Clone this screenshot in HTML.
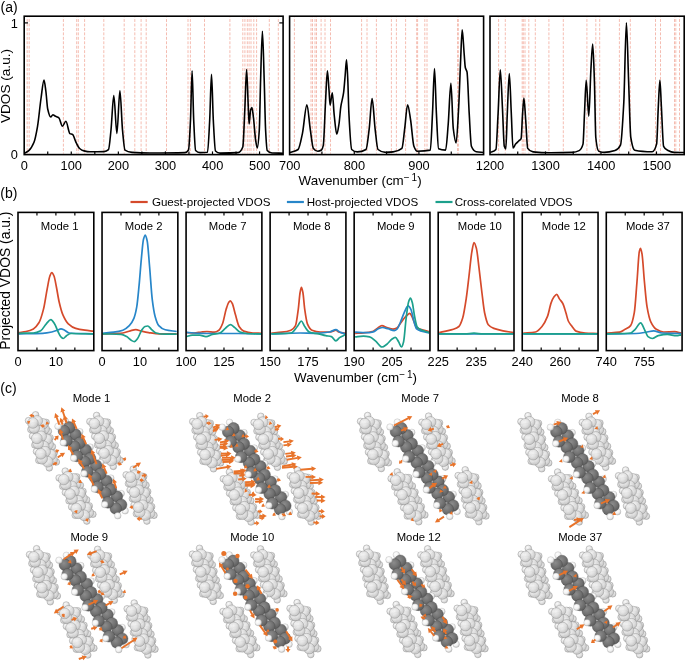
<!DOCTYPE html>
<html><head><meta charset="utf-8"><style>
html,body{margin:0;padding:0;background:#fff;}
svg{display:block;will-change:transform;}
text{font-family:"Liberation Sans", sans-serif;fill:#000;}
</style></head><body>
<svg width="685" height="663" viewBox="0 0 685 663">
<text x="0.50" y="12.30" font-size="14.00" text-anchor="start" >(a)</text>
<g stroke="#ee8f7c" stroke-width="0.8" stroke-dasharray="2.9 1.55" stroke-dashoffset="2.6" opacity="0.75">
<line x1="27.20" y1="17.20" x2="27.20" y2="153.60"/>
<line x1="29.20" y1="17.20" x2="29.20" y2="153.60"/>
<line x1="63.40" y1="17.20" x2="63.40" y2="153.60"/>
<line x1="76.70" y1="17.20" x2="76.70" y2="153.60"/>
<line x1="78.30" y1="17.20" x2="78.30" y2="153.60"/>
<line x1="84.60" y1="17.20" x2="84.60" y2="153.60"/>
<line x1="103.80" y1="17.20" x2="103.80" y2="153.60"/>
<line x1="124.20" y1="17.20" x2="124.20" y2="153.60"/>
<line x1="134.80" y1="17.20" x2="134.80" y2="153.60"/>
<line x1="141.10" y1="17.20" x2="141.10" y2="153.60"/>
<line x1="146.20" y1="17.20" x2="146.20" y2="153.60"/>
<line x1="166.50" y1="17.20" x2="166.50" y2="153.60"/>
<line x1="188.00" y1="17.20" x2="188.00" y2="153.60"/>
<line x1="190.40" y1="17.20" x2="190.40" y2="153.60"/>
<line x1="204.50" y1="17.20" x2="204.50" y2="153.60"/>
<line x1="229.90" y1="17.20" x2="229.90" y2="153.60"/>
<line x1="242.80" y1="17.20" x2="242.80" y2="153.60"/>
<line x1="244.90" y1="17.20" x2="244.90" y2="153.60"/>
<line x1="247.30" y1="17.20" x2="247.30" y2="153.60"/>
<line x1="249.10" y1="17.20" x2="249.10" y2="153.60"/>
<line x1="251.00" y1="17.20" x2="251.00" y2="153.60"/>
<line x1="253.80" y1="17.20" x2="253.80" y2="153.60"/>
<line x1="256.60" y1="17.20" x2="256.60" y2="153.60"/>
<line x1="269.30" y1="17.20" x2="269.30" y2="153.60"/>
<line x1="278.30" y1="17.20" x2="278.30" y2="153.60"/>
<line x1="294.40" y1="17.20" x2="294.40" y2="153.60"/>
<line x1="311.00" y1="17.20" x2="311.00" y2="153.60"/>
<line x1="312.50" y1="17.20" x2="312.50" y2="153.60"/>
<line x1="315.00" y1="17.20" x2="315.00" y2="153.60"/>
<line x1="316.50" y1="17.20" x2="316.50" y2="153.60"/>
<line x1="321.10" y1="17.20" x2="321.10" y2="153.60"/>
<line x1="325.00" y1="17.20" x2="325.00" y2="153.60"/>
<line x1="330.50" y1="17.20" x2="330.50" y2="153.60"/>
<line x1="361.60" y1="17.20" x2="361.60" y2="153.60"/>
<line x1="367.00" y1="17.20" x2="367.00" y2="153.60"/>
<line x1="376.40" y1="17.20" x2="376.40" y2="153.60"/>
<line x1="391.40" y1="17.20" x2="391.40" y2="153.60"/>
<line x1="396.40" y1="17.20" x2="396.40" y2="153.60"/>
<line x1="405.60" y1="17.20" x2="405.60" y2="153.60"/>
<line x1="416.70" y1="17.20" x2="416.70" y2="153.60"/>
<line x1="417.60" y1="17.20" x2="417.60" y2="153.60"/>
<line x1="424.80" y1="17.20" x2="424.80" y2="153.60"/>
<line x1="427.00" y1="17.20" x2="427.00" y2="153.60"/>
<line x1="457.60" y1="17.20" x2="457.60" y2="153.60"/>
<line x1="458.30" y1="17.20" x2="458.30" y2="153.60"/>
<line x1="498.60" y1="17.20" x2="498.60" y2="153.60"/>
<line x1="505.30" y1="17.20" x2="505.30" y2="153.60"/>
<line x1="522.20" y1="17.20" x2="522.20" y2="153.60"/>
<line x1="523.30" y1="17.20" x2="523.30" y2="153.60"/>
<line x1="525.00" y1="17.20" x2="525.00" y2="153.60"/>
<line x1="528.80" y1="17.20" x2="528.80" y2="153.60"/>
<line x1="535.30" y1="17.20" x2="535.30" y2="153.60"/>
<line x1="548.90" y1="17.20" x2="548.90" y2="153.60"/>
<line x1="563.30" y1="17.20" x2="563.30" y2="153.60"/>
<line x1="586.90" y1="17.20" x2="586.90" y2="153.60"/>
<line x1="595.80" y1="17.20" x2="595.80" y2="153.60"/>
<line x1="599.70" y1="17.20" x2="599.70" y2="153.60"/>
<line x1="619.40" y1="17.20" x2="619.40" y2="153.60"/>
<line x1="630.30" y1="17.20" x2="630.30" y2="153.60"/>
<line x1="655.50" y1="17.20" x2="655.50" y2="153.60"/>
<line x1="660.50" y1="17.20" x2="660.50" y2="153.60"/>
<line x1="674.50" y1="17.20" x2="674.50" y2="153.60"/>
<line x1="675.80" y1="17.20" x2="675.80" y2="153.60"/>
<line x1="679.50" y1="17.20" x2="679.50" y2="153.60"/>
</g>
<path d="M24.40 153.20 C25.87 152.33 27.33 151.85 28.80 150.60 C30.53 149.12 32.27 146.51 34.00 142.30 C35.17 139.47 36.33 133.31 37.50 126.60 C38.67 119.89 39.83 106.59 41.00 98.50 C42.00 91.57 43.00 80.10 44.00 80.10 C44.63 80.10 45.27 86.79 45.90 91.50 C46.50 95.96 47.10 106.36 47.70 109.00 C48.70 113.39 49.70 117.00 50.70 117.00 C51.43 117.00 52.17 114.70 52.90 114.70 C53.60 114.70 54.30 115.62 55.00 116.00 C56.30 116.70 57.60 116.78 58.90 117.80 C60.07 118.71 61.23 126.20 62.40 126.20 C63.57 126.20 64.73 121.30 65.90 121.30 C67.23 121.30 68.57 132.84 69.90 133.60 C70.80 134.11 71.70 133.99 72.60 134.50 C73.73 135.14 74.87 140.07 76.00 142.30 C77.20 144.66 78.40 147.49 79.60 148.50 C81.07 149.74 82.53 150.54 84.00 150.90 C86.00 151.38 88.00 151.80 90.00 151.80 C94.67 151.80 99.33 151.75 104.00 151.60 C105.50 151.55 107.00 150.98 108.50 149.60 C109.33 148.83 110.17 137.95 111.00 130.00 C111.93 121.09 112.87 95.50 113.80 95.50 C114.83 95.50 115.87 133.40 116.90 133.40 C117.90 133.40 118.90 90.70 119.90 90.70 C120.77 90.70 121.63 120.89 122.50 130.00 C123.33 138.76 124.17 149.61 125.00 150.20 C127.33 151.85 129.67 152.24 132.00 152.40 C138.00 152.81 144.00 153.00 150.00 153.00 C161.67 153.00 173.33 152.96 185.00 152.60 C186.17 152.56 187.33 151.80 188.50 150.00 C189.17 148.97 189.83 133.61 190.50 120.00 C191.03 109.11 191.57 70.90 192.10 70.90 C192.63 70.90 193.17 108.66 193.70 120.00 C194.33 133.47 194.97 149.83 195.60 150.50 C197.07 152.05 198.53 152.60 200.00 152.60 C202.50 152.60 205.00 152.52 207.50 152.20 C208.23 152.10 208.97 133.73 209.70 120.00 C210.30 108.77 210.90 74.40 211.50 74.40 C212.10 74.40 212.70 109.03 213.30 120.00 C214.03 133.41 214.77 150.26 215.50 151.00 C217.00 152.52 218.50 153.10 220.00 153.10 C226.00 153.10 232.00 153.00 238.00 152.60 C239.60 152.49 241.20 151.00 242.80 147.00 C243.47 145.34 244.13 123.56 244.80 110.00 C245.40 97.80 246.00 69.50 246.60 69.50 C247.13 69.50 247.67 93.49 248.20 105.00 C248.50 111.48 248.80 124.00 249.10 124.00 C249.60 124.00 250.10 111.52 250.60 110.00 C251.03 108.69 251.47 107.60 251.90 107.60 C252.43 107.60 252.97 113.77 253.50 118.00 C254.20 123.56 254.90 135.51 255.60 140.00 C256.17 143.63 256.73 148.00 257.30 148.00 C257.97 148.00 258.63 140.17 259.30 130.00 C259.73 123.39 260.17 93.91 260.60 80.00 C261.20 60.74 261.80 31.20 262.40 31.20 C263.00 31.20 263.60 61.40 264.20 80.00 C264.67 94.47 265.13 121.11 265.60 130.00 C266.13 140.16 266.67 149.87 267.20 150.50 C268.80 152.39 270.40 152.94 272.00 153.00 C275.67 153.15 279.33 153.13 283.00 153.20" fill="none" stroke="#000" stroke-width="1.6" stroke-linejoin="round"/>
<path d="M289.80 152.60 C292.57 151.57 295.33 151.55 298.10 149.50 C299.57 148.41 301.03 140.03 302.50 133.10 C303.97 126.17 305.43 104.70 306.90 104.70 C308.00 104.70 309.10 121.47 310.20 128.80 C311.27 135.90 312.33 147.12 313.40 148.40 C314.87 150.17 316.33 151.20 317.80 151.20 C319.03 151.20 320.27 150.78 321.50 150.00 C322.10 149.62 322.70 148.04 323.30 145.40 C324.03 142.17 324.77 115.66 325.50 102.50 C326.13 91.13 326.77 70.80 327.40 70.80 C327.93 70.80 328.47 83.14 329.00 90.00 C329.37 94.71 329.73 105.10 330.10 105.10 C330.83 105.10 331.57 92.70 332.30 92.70 C332.93 92.70 333.57 109.19 334.20 115.00 C335.07 122.95 335.93 134.20 336.80 134.20 C337.53 134.20 338.27 128.62 339.00 124.00 C339.60 120.22 340.20 110.96 340.80 106.90 C341.73 100.59 342.67 99.42 343.60 92.70 C344.13 88.86 344.67 81.07 345.20 75.00 C345.63 70.07 346.07 59.80 346.50 59.80 C346.93 59.80 347.37 71.01 347.80 80.00 C348.17 87.61 348.53 106.35 348.90 113.40 C349.83 131.35 350.77 148.62 351.70 149.50 C353.53 151.22 355.37 151.90 357.20 151.90 C360.13 151.90 363.07 151.29 366.00 149.50 C367.07 148.85 368.13 137.35 369.20 128.80 C370.17 121.06 371.13 98.60 372.10 98.60 C373.10 98.60 374.10 120.46 375.10 128.80 C376.07 136.87 377.03 148.69 378.00 149.50 C380.53 151.62 383.07 152.40 385.60 152.40 C388.10 152.40 390.60 152.18 393.10 151.90 C396.03 151.57 398.97 151.01 401.90 148.40 C402.83 147.57 403.77 135.80 404.70 128.70 C405.67 121.35 406.63 104.70 407.60 104.70 C408.60 104.70 409.60 113.81 410.60 120.00 C411.70 126.81 412.80 143.40 413.90 146.20 C415.00 149.00 416.10 151.20 417.20 151.20 C421.57 151.20 425.93 151.05 430.30 150.10 C431.03 149.94 431.77 127.46 432.50 113.40 C433.17 100.62 433.83 68.60 434.50 68.60 C435.13 68.60 435.77 101.23 436.40 113.40 C437.13 127.49 437.87 148.48 438.60 148.80 C440.93 149.83 443.27 150.10 445.60 150.10 C446.47 150.10 447.33 134.68 448.20 124.30 C449.10 113.52 450.00 83.40 450.90 83.40 C451.70 83.40 452.50 122.21 453.30 128.70 C454.23 136.27 455.17 142.90 456.10 142.90 C456.97 142.90 457.83 122.37 458.70 106.80 C459.30 96.02 459.90 76.07 460.50 63.10 C461.07 50.85 461.63 29.90 462.20 29.90 C462.87 29.90 463.53 46.36 464.20 54.40 C464.57 58.82 464.93 65.87 465.30 67.50 C465.87 70.03 466.43 69.40 467.00 71.90 C467.73 75.13 468.47 101.19 469.20 113.40 C469.93 125.61 470.67 144.45 471.40 146.20 C473.00 150.01 474.60 151.36 476.20 151.70 C478.67 152.22 481.13 152.23 483.60 152.50" fill="none" stroke="#000" stroke-width="1.6" stroke-linejoin="round"/>
<path d="M490.30 152.60 C492.17 151.57 494.03 151.81 495.90 149.50 C496.63 148.59 497.37 126.58 498.10 113.40 C498.83 100.22 499.57 69.70 500.30 69.70 C501.03 69.70 501.77 94.99 502.50 109.10 C503.10 120.64 503.70 144.43 504.30 146.30 C504.80 147.86 505.30 148.90 505.80 148.90 C506.30 148.90 506.80 124.25 507.30 113.40 C507.97 98.93 508.63 73.60 509.30 73.60 C509.97 73.60 510.63 99.98 511.30 113.40 C511.87 124.81 512.43 148.00 513.00 148.00 C513.87 148.00 514.73 145.15 515.60 144.10 C516.70 142.77 517.80 141.90 518.90 140.80 C519.63 140.07 520.37 140.07 521.10 138.60 C521.60 137.60 522.10 120.29 522.60 113.40 C523.03 107.43 523.47 98.10 523.90 98.10 C524.50 98.10 525.10 112.15 525.70 120.00 C526.37 128.72 527.03 147.44 527.70 148.40 C529.50 150.99 531.30 151.70 533.10 151.90 C538.93 152.55 544.77 152.80 550.60 152.80 C557.90 152.80 565.20 152.70 572.50 152.40 C574.70 152.31 576.90 151.70 579.10 150.60 C580.40 149.95 581.70 148.68 583.00 144.10 C583.50 142.34 584.00 123.40 584.50 113.40 C585.07 102.07 585.63 80.20 586.20 80.20 C587.07 80.20 587.93 116.10 588.80 116.10 C589.50 116.10 590.20 81.75 590.90 69.70 C591.50 59.37 592.10 44.10 592.70 44.10 C593.27 44.10 593.83 64.52 594.40 80.60 C594.87 93.84 595.33 133.06 595.80 137.50 C596.73 146.37 597.67 150.63 598.60 151.10 C600.43 152.02 602.27 152.40 604.10 152.40 C607.73 152.40 611.37 151.71 615.00 150.60 C616.83 150.04 618.67 148.80 620.50 145.20 C621.60 143.04 622.70 122.85 623.80 102.50 C624.67 86.47 625.53 22.70 626.40 22.70 C627.13 22.70 627.87 61.47 628.60 80.60 C629.33 99.73 630.07 132.93 630.80 137.50 C632.10 145.60 633.40 149.93 634.70 150.20 C640.53 151.42 646.37 151.70 652.20 151.70 C653.67 151.70 655.13 149.47 656.60 144.10 C657.17 142.02 657.73 117.62 658.30 106.90 C658.83 96.82 659.37 80.20 659.90 80.20 C660.40 80.20 660.90 97.97 661.40 106.90 C662.13 119.99 662.87 144.79 663.60 146.30 C664.90 148.99 666.20 149.52 667.50 150.20 C669.70 151.35 671.90 152.35 674.10 152.40 C677.40 152.47 680.70 152.47 684.00 152.50" fill="none" stroke="#000" stroke-width="1.6" stroke-linejoin="round"/>
<rect x="24.20" y="16.20" width="258.90" height="138.40" fill="none" stroke="#000" stroke-width="1.6"/>
<line x1="47.74" y1="154.60" x2="47.74" y2="151.40" stroke="#000" stroke-width="1.2"/>
<line x1="71.27" y1="154.60" x2="71.27" y2="151.40" stroke="#000" stroke-width="1.2"/>
<line x1="94.81" y1="154.60" x2="94.81" y2="151.40" stroke="#000" stroke-width="1.2"/>
<line x1="118.35" y1="154.60" x2="118.35" y2="151.40" stroke="#000" stroke-width="1.2"/>
<line x1="141.88" y1="154.60" x2="141.88" y2="151.40" stroke="#000" stroke-width="1.2"/>
<line x1="165.42" y1="154.60" x2="165.42" y2="151.40" stroke="#000" stroke-width="1.2"/>
<line x1="188.95" y1="154.60" x2="188.95" y2="151.40" stroke="#000" stroke-width="1.2"/>
<line x1="212.49" y1="154.60" x2="212.49" y2="151.40" stroke="#000" stroke-width="1.2"/>
<line x1="236.03" y1="154.60" x2="236.03" y2="151.40" stroke="#000" stroke-width="1.2"/>
<line x1="259.56" y1="154.60" x2="259.56" y2="151.40" stroke="#000" stroke-width="1.2"/>
<rect x="289.60" y="16.20" width="194.00" height="138.40" fill="none" stroke="#000" stroke-width="1.6"/>
<line x1="321.93" y1="154.60" x2="321.93" y2="151.40" stroke="#000" stroke-width="1.2"/>
<line x1="354.27" y1="154.60" x2="354.27" y2="151.40" stroke="#000" stroke-width="1.2"/>
<line x1="386.60" y1="154.60" x2="386.60" y2="151.40" stroke="#000" stroke-width="1.2"/>
<line x1="418.93" y1="154.60" x2="418.93" y2="151.40" stroke="#000" stroke-width="1.2"/>
<line x1="451.27" y1="154.60" x2="451.27" y2="151.40" stroke="#000" stroke-width="1.2"/>
<rect x="490.00" y="16.20" width="194.20" height="138.40" fill="none" stroke="#000" stroke-width="1.6"/>
<line x1="517.74" y1="154.60" x2="517.74" y2="151.40" stroke="#000" stroke-width="1.2"/>
<line x1="545.49" y1="154.60" x2="545.49" y2="151.40" stroke="#000" stroke-width="1.2"/>
<line x1="573.23" y1="154.60" x2="573.23" y2="151.40" stroke="#000" stroke-width="1.2"/>
<line x1="600.97" y1="154.60" x2="600.97" y2="151.40" stroke="#000" stroke-width="1.2"/>
<line x1="628.71" y1="154.60" x2="628.71" y2="151.40" stroke="#000" stroke-width="1.2"/>
<line x1="656.46" y1="154.60" x2="656.46" y2="151.40" stroke="#000" stroke-width="1.2"/>
<line x1="24.2" y1="22.9" x2="28" y2="22.9" stroke="#000" stroke-width="1.2"/>
<line x1="283.1" y1="22.9" x2="279.3" y2="22.9" stroke="#000" stroke-width="1.2"/>
<text x="17.80" y="27.60" font-size="12.80" text-anchor="end" >1</text>
<text x="17.80" y="159.30" font-size="12.80" text-anchor="end" >0</text>
<text x="24.20" y="169.80" font-size="12.80" text-anchor="middle" >0</text>
<text x="71.30" y="169.80" font-size="12.80" text-anchor="middle" >100</text>
<text x="118.40" y="169.80" font-size="12.80" text-anchor="middle" >200</text>
<text x="165.50" y="169.80" font-size="12.80" text-anchor="middle" >300</text>
<text x="212.60" y="169.80" font-size="12.80" text-anchor="middle" >400</text>
<text x="259.70" y="169.80" font-size="12.80" text-anchor="middle" >500</text>
<text x="289.80" y="169.80" font-size="12.80" text-anchor="middle" >700</text>
<text x="354.40" y="169.80" font-size="12.80" text-anchor="middle" >800</text>
<text x="419.00" y="169.80" font-size="12.80" text-anchor="middle" >900</text>
<text x="490.00" y="169.80" font-size="12.80" text-anchor="middle" >1200</text>
<text x="545.60" y="169.80" font-size="12.80" text-anchor="middle" >1300</text>
<text x="601.20" y="169.80" font-size="12.80" text-anchor="middle" >1400</text>
<text x="656.80" y="169.80" font-size="12.80" text-anchor="middle" >1500</text>
<text x="298.60" y="185.40" font-size="13.40" text-anchor="start" >Wavenumber (cm<tspan font-size="10" dy="-4.1">− 1</tspan><tspan dy="4.1">)</tspan></text>
<text transform="translate(10.2,86) rotate(-90)" font-size="13.6" text-anchor="middle">VDOS (a.u.)</text>
<text x="0.30" y="198.40" font-size="14.00" text-anchor="start" >(b)</text>
<line x1="130.5" y1="202" x2="147.7" y2="202" stroke="#d54a2b" stroke-width="2.2"/>
<text x="151.90" y="206.20" font-size="11.60" text-anchor="start" >Guest-projected VDOS</text>
<line x1="286.9" y1="202" x2="303.9" y2="202" stroke="#2786c9" stroke-width="2.2"/>
<text x="306.70" y="206.20" font-size="11.60" text-anchor="start" >Host-projected VDOS</text>
<line x1="435.5" y1="202" x2="452.5" y2="202" stroke="#1ca08c" stroke-width="2.2"/>
<text x="454.70" y="206.20" font-size="11.60" text-anchor="start" >Cross-corelated VDOS</text>
<g fill="none" stroke-width="1.7" stroke-linejoin="round">
<path d="M18.80 332.60 C21.20 332.23 23.60 332.01 26.00 331.50 C28.47 330.98 30.93 330.25 33.40 328.90 C35.23 327.90 37.07 325.80 38.90 322.80 C40.43 320.29 41.97 315.08 43.50 309.10 C44.73 304.29 45.97 295.05 47.20 288.80 C48.10 284.24 49.00 278.23 49.90 276.00 C50.53 274.43 51.17 272.70 51.80 272.70 C52.53 272.70 53.27 274.35 54.00 276.00 C54.80 277.80 55.60 283.03 56.40 287.00 C57.30 291.47 58.20 297.83 59.10 301.70 C60.33 307.00 61.57 311.75 62.80 314.60 C64.63 318.84 66.47 322.10 68.30 323.80 C70.77 326.09 73.23 327.65 75.70 328.40 C78.77 329.33 81.83 329.77 84.90 330.20 C87.63 330.58 90.37 330.80 93.10 331.10" stroke="#d54a2b"/>
<path d="M18.80 333.90 C26.73 333.70 34.67 333.68 42.60 333.30 C45.67 333.15 48.73 332.63 51.80 332.00 C53.63 331.63 55.47 330.82 57.30 330.20 C58.53 329.78 59.77 328.90 61.00 328.90 C62.20 328.90 63.40 329.66 64.60 330.20 C66.13 330.89 67.67 332.86 69.20 333.00 C77.17 333.71 85.13 333.60 93.10 333.90" stroke="#2786c9"/>
<path d="M18.80 333.30 C23.67 333.20 28.53 333.21 33.40 333.00 C35.83 332.90 38.27 332.01 40.70 330.80 C42.57 329.87 44.43 325.73 46.30 323.80 C47.83 322.21 49.37 319.70 50.90 319.70 C52.10 319.70 53.30 322.00 54.50 323.80 C55.73 325.65 56.97 329.57 58.20 332.00 C59.13 333.84 60.07 336.10 61.00 337.00 C61.73 337.71 62.47 338.50 63.20 338.50 C64.30 338.50 65.40 336.38 66.50 335.70 C68.03 334.75 69.57 333.50 71.10 333.50 C78.43 333.50 85.77 333.77 93.10 333.90" stroke="#1ca08c"/>
</g>
<rect x="18.00" y="212.40" width="75.80" height="138.20" fill="none" stroke="#000" stroke-width="1.6"/>
<line x1="36.95" y1="212.40" x2="36.95" y2="215.40" stroke="#000" stroke-width="1.2"/>
<line x1="36.95" y1="350.60" x2="36.95" y2="347.60" stroke="#000" stroke-width="1.2"/>
<line x1="55.90" y1="212.40" x2="55.90" y2="215.40" stroke="#000" stroke-width="1.2"/>
<line x1="55.90" y1="350.60" x2="55.90" y2="347.60" stroke="#000" stroke-width="1.2"/>
<line x1="74.85" y1="212.40" x2="74.85" y2="215.40" stroke="#000" stroke-width="1.2"/>
<line x1="74.85" y1="350.60" x2="74.85" y2="347.60" stroke="#000" stroke-width="1.2"/>
<text x="59.60" y="229.60" font-size="11.30" text-anchor="middle" >Mode 1</text>
<text x="18.00" y="366.30" font-size="12.80" text-anchor="middle" >0</text>
<text x="55.90" y="366.30" font-size="12.80" text-anchor="middle" >10</text>
<g fill="none" stroke-width="1.7" stroke-linejoin="round">
<path d="M102.70 333.90 C109.43 333.60 116.17 333.59 122.90 333.00 C125.37 332.78 127.83 331.38 130.30 330.80 C132.13 330.37 133.97 329.70 135.80 329.70 C137.63 329.70 139.47 330.68 141.30 331.10 C143.73 331.66 146.17 332.23 148.60 332.60 C152.30 333.16 156.00 333.90 159.70 333.90 C165.37 333.90 171.03 333.90 176.70 333.90" stroke="#d54a2b"/>
<path d="M102.70 333.30 C106.37 332.93 110.03 332.71 113.70 332.20 C116.77 331.78 119.83 331.26 122.90 330.20 C125.03 329.46 127.17 327.75 129.30 325.60 C130.83 324.05 132.37 321.90 133.90 318.30 C134.83 316.11 135.77 312.42 136.70 307.20 C137.50 302.73 138.30 293.45 139.10 285.20 C139.83 277.64 140.57 266.95 141.30 259.40 C142.03 251.85 142.77 241.82 143.50 239.20 C144.10 237.05 144.70 235.10 145.30 235.10 C145.93 235.10 146.57 238.01 147.20 241.00 C148.00 244.77 148.80 257.65 149.60 266.80 C150.50 277.10 151.40 292.72 152.30 299.90 C153.23 307.34 154.17 313.07 155.10 316.40 C156.33 320.80 157.57 324.25 158.80 325.60 C160.93 327.94 163.07 329.25 165.20 329.80 C169.03 330.78 172.87 330.93 176.70 331.50" stroke="#2786c9"/>
<path d="M102.70 333.90 C108.83 334.07 114.97 334.03 121.10 334.40 C122.93 334.51 124.77 335.61 126.60 336.60 C128.13 337.43 129.67 339.47 131.20 340.30 C132.23 340.86 133.27 341.60 134.30 341.60 C135.40 341.60 136.50 339.89 137.60 338.50 C138.97 336.77 140.33 332.15 141.70 330.20 C142.80 328.63 143.90 326.84 145.00 326.50 C145.90 326.22 146.80 326.00 147.70 326.00 C148.93 326.00 150.17 328.25 151.40 329.30 C152.93 330.60 154.47 332.63 156.00 333.00 C159.07 333.75 162.13 334.20 165.20 334.20 C169.03 334.20 172.87 334.20 176.70 334.20" stroke="#1ca08c"/>
</g>
<rect x="102.04" y="212.40" width="75.80" height="138.20" fill="none" stroke="#000" stroke-width="1.6"/>
<line x1="120.99" y1="212.40" x2="120.99" y2="215.40" stroke="#000" stroke-width="1.2"/>
<line x1="120.99" y1="350.60" x2="120.99" y2="347.60" stroke="#000" stroke-width="1.2"/>
<line x1="139.94" y1="212.40" x2="139.94" y2="215.40" stroke="#000" stroke-width="1.2"/>
<line x1="139.94" y1="350.60" x2="139.94" y2="347.60" stroke="#000" stroke-width="1.2"/>
<line x1="158.89" y1="212.40" x2="158.89" y2="215.40" stroke="#000" stroke-width="1.2"/>
<line x1="158.89" y1="350.60" x2="158.89" y2="347.60" stroke="#000" stroke-width="1.2"/>
<text x="143.64" y="229.60" font-size="11.30" text-anchor="middle" >Mode 2</text>
<text x="102.04" y="366.30" font-size="12.80" text-anchor="middle" >0</text>
<text x="139.94" y="366.30" font-size="12.80" text-anchor="middle" >10</text>
<g fill="none" stroke-width="1.7" stroke-linejoin="round">
<path d="M186.60 332.60 C189.07 332.73 191.53 333.00 194.00 333.00 C196.47 333.00 198.93 332.27 201.40 332.00 C203.23 331.80 205.07 331.50 206.90 331.50 C209.37 331.50 211.83 332.20 214.30 332.20 C215.83 332.20 217.37 331.30 218.90 330.20 C220.10 329.34 221.30 326.74 222.50 323.80 C223.73 320.78 224.97 313.02 226.20 309.10 C227.00 306.56 227.80 303.79 228.60 302.60 C229.17 301.76 229.73 300.80 230.30 300.80 C230.97 300.80 231.63 302.23 232.30 303.50 C233.33 305.46 234.37 311.09 235.40 314.60 C236.63 318.79 237.87 324.58 239.10 326.50 C240.63 328.88 242.17 330.53 243.70 331.10 C246.77 332.23 249.83 332.81 252.90 333.00 C255.67 333.17 258.43 333.20 261.20 333.30" stroke="#d54a2b"/>
<path d="M186.60 332.40 C191.53 332.70 196.47 333.21 201.40 333.30 C207.53 333.42 213.67 333.50 219.80 333.50 C225.93 333.50 232.07 333.50 238.20 333.50 C245.87 333.50 253.53 333.77 261.20 333.90" stroke="#2786c9"/>
<path d="M186.60 336.60 C188.47 336.13 190.33 335.20 192.20 335.20 C194.63 335.20 197.07 335.20 199.50 335.20 C201.67 335.20 203.83 336.60 206.00 336.60 C208.13 336.60 210.27 334.92 212.40 334.40 C214.87 333.79 217.33 333.79 219.80 333.00 C221.63 332.42 223.47 329.82 225.30 328.40 C227.00 327.08 228.70 324.70 230.40 324.70 C231.77 324.70 233.13 326.40 234.50 327.40 C236.33 328.74 238.17 331.38 240.00 332.00 C242.43 332.83 244.87 333.37 247.30 333.50 C251.93 333.75 256.57 333.77 261.20 333.90" stroke="#1ca08c"/>
</g>
<rect x="186.08" y="212.40" width="75.80" height="138.20" fill="none" stroke="#000" stroke-width="1.6"/>
<line x1="205.03" y1="212.40" x2="205.03" y2="215.40" stroke="#000" stroke-width="1.2"/>
<line x1="205.03" y1="350.60" x2="205.03" y2="347.60" stroke="#000" stroke-width="1.2"/>
<line x1="223.98" y1="212.40" x2="223.98" y2="215.40" stroke="#000" stroke-width="1.2"/>
<line x1="223.98" y1="350.60" x2="223.98" y2="347.60" stroke="#000" stroke-width="1.2"/>
<line x1="242.93" y1="212.40" x2="242.93" y2="215.40" stroke="#000" stroke-width="1.2"/>
<line x1="242.93" y1="350.60" x2="242.93" y2="347.60" stroke="#000" stroke-width="1.2"/>
<text x="227.68" y="229.60" font-size="11.30" text-anchor="middle" >Mode 7</text>
<text x="186.08" y="366.30" font-size="12.80" text-anchor="middle" >100</text>
<text x="223.98" y="366.30" font-size="12.80" text-anchor="middle" >125</text>
<g fill="none" stroke-width="1.7" stroke-linejoin="round">
<path d="M271.30 333.00 C274.77 332.73 278.23 332.60 281.70 332.20 C284.77 331.85 287.83 331.38 290.90 330.20 C292.43 329.61 293.97 328.38 295.50 325.60 C296.43 323.91 297.37 315.92 298.30 309.10 C298.90 304.72 299.50 295.73 300.10 292.50 C300.53 290.17 300.97 287.40 301.40 287.40 C301.90 287.40 302.40 290.05 302.90 292.50 C303.50 295.44 304.10 304.92 304.70 309.10 C305.60 315.37 306.50 321.70 307.40 323.80 C308.93 327.38 310.47 329.58 312.00 330.20 C314.77 331.32 317.53 332.00 320.30 332.00 C323.37 332.00 326.43 332.00 329.50 332.00 C330.73 332.00 331.97 331.45 333.20 331.10 C334.10 330.84 335.00 330.20 335.90 330.20 C336.83 330.20 337.77 331.69 338.70 332.00 C340.87 332.71 343.03 332.87 345.20 333.30" stroke="#d54a2b"/>
<path d="M271.30 333.90 C280.90 333.60 290.50 333.00 300.10 333.00 C305.00 333.00 309.90 333.30 314.80 333.30 C319.70 333.30 324.60 332.76 329.50 332.00 C331.63 331.67 333.77 329.70 335.90 329.70 C337.13 329.70 338.37 331.45 339.60 332.00 C341.47 332.84 343.33 333.27 345.20 333.90" stroke="#2786c9"/>
<path d="M271.30 333.90 C277.83 333.60 284.37 333.68 290.90 333.00 C293.03 332.78 295.17 328.99 297.30 326.50 C298.67 324.90 300.03 321.00 301.40 321.00 C302.50 321.00 303.60 324.95 304.70 326.50 C306.23 328.65 307.77 331.41 309.30 332.00 C312.37 333.17 315.43 333.21 318.50 333.90 C320.93 334.45 323.37 335.23 325.80 335.70 C327.67 336.06 329.53 336.07 331.40 336.60 C332.90 337.02 334.40 340.90 335.90 340.90 C337.13 340.90 338.37 338.41 339.60 337.60 C341.47 336.38 343.33 335.73 345.20 334.80" stroke="#1ca08c"/>
</g>
<rect x="270.12" y="212.40" width="75.80" height="138.20" fill="none" stroke="#000" stroke-width="1.6"/>
<line x1="289.07" y1="212.40" x2="289.07" y2="215.40" stroke="#000" stroke-width="1.2"/>
<line x1="289.07" y1="350.60" x2="289.07" y2="347.60" stroke="#000" stroke-width="1.2"/>
<line x1="308.02" y1="212.40" x2="308.02" y2="215.40" stroke="#000" stroke-width="1.2"/>
<line x1="308.02" y1="350.60" x2="308.02" y2="347.60" stroke="#000" stroke-width="1.2"/>
<line x1="326.97" y1="212.40" x2="326.97" y2="215.40" stroke="#000" stroke-width="1.2"/>
<line x1="326.97" y1="350.60" x2="326.97" y2="347.60" stroke="#000" stroke-width="1.2"/>
<text x="311.72" y="229.60" font-size="11.30" text-anchor="middle" >Mode 8</text>
<text x="270.12" y="366.30" font-size="12.80" text-anchor="middle" >150</text>
<text x="308.02" y="366.30" font-size="12.80" text-anchor="middle" >175</text>
<g fill="none" stroke-width="1.7" stroke-linejoin="round">
<path d="M355.10 333.30 C357.87 333.13 360.63 333.04 363.40 332.80 C366.70 332.51 370.00 332.15 373.30 331.20 C374.73 330.79 376.17 329.00 377.60 328.10 C379.03 327.20 380.47 325.70 381.90 325.70 C383.57 325.70 385.23 326.99 386.90 327.50 C388.93 328.12 390.97 329.10 393.00 329.10 C394.27 329.10 395.53 328.66 396.80 328.10 C398.03 327.56 399.27 324.85 400.50 323.20 C401.73 321.55 402.97 319.62 404.20 318.20 C405.43 316.78 406.67 315.43 407.90 314.50 C408.53 314.02 409.17 313.30 409.80 313.30 C410.40 313.30 411.00 314.75 411.60 315.80 C412.43 317.26 413.27 320.06 414.10 322.00 C414.93 323.94 415.77 326.78 416.60 327.50 C417.83 328.57 419.07 328.98 420.30 329.40 C421.93 329.95 423.57 330.15 425.20 330.60 C426.50 330.96 427.80 331.40 429.10 331.80" stroke="#d54a2b"/>
<path d="M355.10 332.10 C358.67 332.30 362.23 332.70 365.80 332.70 C368.30 332.70 370.80 332.33 373.30 331.80 C374.93 331.46 376.57 329.46 378.20 328.80 C379.63 328.22 381.07 327.50 382.50 327.50 C384.37 327.50 386.23 328.32 388.10 328.80 C390.17 329.33 392.23 330.60 394.30 330.60 C395.13 330.60 395.97 330.02 396.80 329.40 C398.03 328.48 399.27 324.75 400.50 322.00 C401.73 319.25 402.97 315.24 404.20 312.70 C405.50 310.02 406.80 305.90 408.10 305.90 C409.07 305.90 410.03 307.74 411.00 309.60 C412.03 311.59 413.07 318.68 414.10 322.00 C414.93 324.68 415.77 328.05 416.60 328.80 C418.23 330.27 419.87 330.70 421.50 331.20 C424.03 331.97 426.57 332.27 429.10 332.80" stroke="#2786c9"/>
<path d="M355.10 336.80 C357.87 336.60 360.63 336.20 363.40 336.20 C365.47 336.20 367.53 336.45 369.60 336.80 C371.63 337.15 373.67 339.45 375.70 341.10 C377.77 342.77 379.83 347.00 381.90 347.00 C383.57 347.00 385.23 345.40 386.90 344.20 C388.53 343.03 390.17 340.43 391.80 339.30 C392.97 338.49 394.13 337.40 395.30 337.40 C396.40 337.40 397.50 340.02 398.60 341.70 C399.57 343.18 400.53 347.00 401.50 347.00 C402.20 347.00 402.90 344.44 403.60 341.70 C404.40 338.57 405.20 325.84 406.00 319.50 C406.83 312.90 407.67 304.83 408.50 302.20 C409.13 300.20 409.77 298.20 410.40 298.20 C411.00 298.20 411.60 300.31 412.20 302.20 C413.03 304.83 413.87 313.05 414.70 317.00 C415.53 320.95 416.37 325.82 417.20 326.90 C418.63 328.76 420.07 329.33 421.50 330.00 C424.03 331.19 426.57 331.67 429.10 332.50" stroke="#1ca08c"/>
</g>
<rect x="354.16" y="212.40" width="75.80" height="138.20" fill="none" stroke="#000" stroke-width="1.6"/>
<line x1="373.11" y1="212.40" x2="373.11" y2="215.40" stroke="#000" stroke-width="1.2"/>
<line x1="373.11" y1="350.60" x2="373.11" y2="347.60" stroke="#000" stroke-width="1.2"/>
<line x1="392.06" y1="212.40" x2="392.06" y2="215.40" stroke="#000" stroke-width="1.2"/>
<line x1="392.06" y1="350.60" x2="392.06" y2="347.60" stroke="#000" stroke-width="1.2"/>
<line x1="411.01" y1="212.40" x2="411.01" y2="215.40" stroke="#000" stroke-width="1.2"/>
<line x1="411.01" y1="350.60" x2="411.01" y2="347.60" stroke="#000" stroke-width="1.2"/>
<text x="395.76" y="229.60" font-size="11.30" text-anchor="middle" >Mode 9</text>
<text x="354.16" y="366.30" font-size="12.80" text-anchor="middle" >190</text>
<text x="392.06" y="366.30" font-size="12.80" text-anchor="middle" >205</text>
<g fill="none" stroke-width="1.7" stroke-linejoin="round">
<path d="M439.20 332.60 C441.47 332.10 443.73 331.62 446.00 331.10 C448.47 330.53 450.93 330.13 453.40 329.30 C455.23 328.69 457.07 328.08 458.90 326.50 C460.13 325.44 461.37 322.19 462.60 318.30 C463.83 314.41 465.07 306.17 466.30 298.00 C467.20 292.04 468.10 283.50 469.00 276.00 C469.93 268.22 470.87 257.42 471.80 252.10 C472.53 247.92 473.27 242.50 474.00 242.50 C474.80 242.50 475.60 245.47 476.40 248.40 C477.30 251.70 478.20 261.43 479.10 268.60 C480.03 276.04 480.97 285.06 481.90 292.50 C482.80 299.67 483.70 308.54 484.60 312.70 C485.83 318.40 487.07 323.26 488.30 324.70 C490.13 326.83 491.97 327.68 493.80 328.40 C496.87 329.60 499.93 330.16 503.00 330.80 C506.47 331.52 509.93 332.00 513.40 332.60" stroke="#d54a2b"/>
<path d="M439.20 333.90 L513.40 333.90" stroke="#2786c9"/>
<path d="M439.20 333.90 C447.80 333.90 456.40 333.90 465.00 333.90 C468.00 333.90 471.00 333.20 474.00 333.20 C477.00 333.20 480.00 333.90 483.00 333.90 C493.13 333.90 503.27 333.90 513.40 333.90" stroke="#1ca08c"/>
</g>
<rect x="438.20" y="212.40" width="75.80" height="138.20" fill="none" stroke="#000" stroke-width="1.6"/>
<line x1="457.15" y1="212.40" x2="457.15" y2="215.40" stroke="#000" stroke-width="1.2"/>
<line x1="457.15" y1="350.60" x2="457.15" y2="347.60" stroke="#000" stroke-width="1.2"/>
<line x1="476.10" y1="212.40" x2="476.10" y2="215.40" stroke="#000" stroke-width="1.2"/>
<line x1="476.10" y1="350.60" x2="476.10" y2="347.60" stroke="#000" stroke-width="1.2"/>
<line x1="495.05" y1="212.40" x2="495.05" y2="215.40" stroke="#000" stroke-width="1.2"/>
<line x1="495.05" y1="350.60" x2="495.05" y2="347.60" stroke="#000" stroke-width="1.2"/>
<text x="479.80" y="229.60" font-size="11.30" text-anchor="middle" >Mode 10</text>
<text x="438.20" y="366.30" font-size="12.80" text-anchor="middle" >225</text>
<text x="476.10" y="366.30" font-size="12.80" text-anchor="middle" >235</text>
<g fill="none" stroke-width="1.7" stroke-linejoin="round">
<path d="M523.30 333.00 C527.37 332.67 531.43 332.66 535.50 332.00 C537.67 331.65 539.83 329.04 542.00 326.50 C543.83 324.35 545.67 321.01 547.50 316.40 C548.73 313.30 549.97 305.80 551.20 302.60 C552.10 300.26 553.00 298.28 553.90 297.10 C554.83 295.88 555.77 294.40 556.70 294.40 C557.60 294.40 558.50 297.55 559.40 298.90 C560.53 300.60 561.67 301.38 562.80 303.50 C563.83 305.43 564.87 309.39 565.90 312.70 C566.70 315.26 567.50 319.31 568.30 321.00 C569.33 323.18 570.37 324.22 571.40 325.60 C572.93 327.64 574.47 330.51 576.00 331.10 C579.07 332.27 582.13 332.78 585.20 333.00 C589.30 333.29 593.40 333.33 597.50 333.50" stroke="#d54a2b"/>
<path d="M523.30 333.90 L597.50 333.90" stroke="#2786c9"/>
<path d="M523.30 333.90 L597.50 333.90" stroke="#1ca08c"/>
</g>
<rect x="522.24" y="212.40" width="75.80" height="138.20" fill="none" stroke="#000" stroke-width="1.6"/>
<line x1="541.19" y1="212.40" x2="541.19" y2="215.40" stroke="#000" stroke-width="1.2"/>
<line x1="541.19" y1="350.60" x2="541.19" y2="347.60" stroke="#000" stroke-width="1.2"/>
<line x1="560.14" y1="212.40" x2="560.14" y2="215.40" stroke="#000" stroke-width="1.2"/>
<line x1="560.14" y1="350.60" x2="560.14" y2="347.60" stroke="#000" stroke-width="1.2"/>
<line x1="579.09" y1="212.40" x2="579.09" y2="215.40" stroke="#000" stroke-width="1.2"/>
<line x1="579.09" y1="350.60" x2="579.09" y2="347.60" stroke="#000" stroke-width="1.2"/>
<text x="563.84" y="229.60" font-size="11.30" text-anchor="middle" >Mode 12</text>
<text x="522.24" y="366.30" font-size="12.80" text-anchor="middle" >240</text>
<text x="560.14" y="366.30" font-size="12.80" text-anchor="middle" >260</text>
<g fill="none" stroke-width="1.7" stroke-linejoin="round">
<path d="M607.10 333.00 C611.23 332.73 615.37 332.73 619.50 332.20 C621.37 331.96 623.23 330.39 625.10 329.30 C626.93 328.23 628.77 327.76 630.60 325.60 C631.83 324.14 633.07 319.50 634.30 312.70 C635.20 307.74 636.10 292.39 637.00 281.50 C637.80 271.82 638.60 254.14 639.40 251.10 C639.77 249.71 640.13 248.40 640.50 248.40 C641.00 248.40 641.50 251.23 642.00 253.90 C642.80 258.18 643.60 273.15 644.40 281.50 C645.30 290.89 646.20 302.04 647.10 307.20 C648.33 314.27 649.57 319.34 650.80 321.90 C652.63 325.71 654.47 328.22 656.30 329.30 C658.77 330.76 661.23 332.00 663.70 332.00 C667.37 332.00 671.03 331.70 674.70 331.70 C676.83 331.70 678.97 332.57 681.10 333.00" stroke="#d54a2b"/>
<path d="M607.10 333.90 C616.77 333.77 626.43 333.78 636.10 333.50 C639.77 333.40 643.43 332.58 647.10 332.00 C649.27 331.66 651.43 330.80 653.60 330.80 C656.33 330.80 659.07 332.85 661.80 333.00 C668.23 333.34 674.67 333.33 681.10 333.50" stroke="#2786c9"/>
<path d="M607.10 333.90 C614.93 333.60 622.77 333.72 630.60 333.00 C632.13 332.86 633.67 330.76 635.20 329.30 C637.03 327.55 638.87 322.80 640.70 322.80 C641.93 322.80 643.17 326.98 644.40 329.30 C645.60 331.56 646.80 335.71 648.00 336.60 C649.43 337.66 650.87 338.50 652.30 338.50 C654.27 338.50 656.23 336.15 658.20 335.70 C661.27 335.00 664.33 334.40 667.40 334.40 C670.43 334.40 673.47 335.70 676.50 335.70 C678.03 335.70 679.57 335.10 681.10 334.80" stroke="#1ca08c"/>
</g>
<rect x="606.28" y="212.40" width="75.80" height="138.20" fill="none" stroke="#000" stroke-width="1.6"/>
<line x1="625.23" y1="212.40" x2="625.23" y2="215.40" stroke="#000" stroke-width="1.2"/>
<line x1="625.23" y1="350.60" x2="625.23" y2="347.60" stroke="#000" stroke-width="1.2"/>
<line x1="644.18" y1="212.40" x2="644.18" y2="215.40" stroke="#000" stroke-width="1.2"/>
<line x1="644.18" y1="350.60" x2="644.18" y2="347.60" stroke="#000" stroke-width="1.2"/>
<line x1="663.13" y1="212.40" x2="663.13" y2="215.40" stroke="#000" stroke-width="1.2"/>
<line x1="663.13" y1="350.60" x2="663.13" y2="347.60" stroke="#000" stroke-width="1.2"/>
<text x="647.88" y="229.60" font-size="11.30" text-anchor="middle" >Mode 37</text>
<text x="606.28" y="366.30" font-size="12.80" text-anchor="middle" >740</text>
<text x="644.18" y="366.30" font-size="12.80" text-anchor="middle" >755</text>
<text x="294.00" y="381.70" font-size="13.40" text-anchor="start" >Wavenumber (cm<tspan font-size="10" dy="-4.1">− 1</tspan><tspan dy="4.1">)</tspan></text>
<text transform="translate(9.7,280.6) rotate(-90)" font-size="13.9" text-anchor="middle">Projected VDOS (a.u.)</text>
<text x="0.30" y="392.50" font-size="14.00" text-anchor="start" >(c)</text>
<defs>
<radialGradient id="gd" cx="0.4" cy="0.36" r="0.66"><stop offset="0" stop-color="#8c8c8c"/><stop offset="0.6" stop-color="#727272"/><stop offset="1" stop-color="#5c5c5c"/></radialGradient>
<radialGradient id="gh" cx="0.4" cy="0.36" r="0.66"><stop offset="0" stop-color="#ffffff"/><stop offset="0.6" stop-color="#f1f1f1"/><stop offset="1" stop-color="#c2c2c2"/></radialGradient>
<radialGradient id="gl" cx="0.38" cy="0.34" r="0.7"><stop offset="0" stop-color="#f9f9f9"/><stop offset="0.55" stop-color="#e0e0e0"/><stop offset="0.9" stop-color="#c4c4c4"/><stop offset="1" stop-color="#b4b4b4"/></radialGradient>
</defs>
<defs><g id="pent"><circle cx="20.69" cy="5.38" r="3.3" fill="url(#gh)" stroke="#9a9a9a" stroke-width="0.3"/><circle cx="31.03" cy="20.85" r="3.3" fill="url(#gh)" stroke="#9a9a9a" stroke-width="0.3"/><circle cx="41.38" cy="36.31" r="3.3" fill="url(#gh)" stroke="#9a9a9a" stroke-width="0.3"/><circle cx="51.73" cy="51.78" r="3.3" fill="url(#gh)" stroke="#9a9a9a" stroke-width="0.3"/><circle cx="62.07" cy="67.24" r="3.3" fill="url(#gh)" stroke="#9a9a9a" stroke-width="0.3"/><circle cx="16.36" cy="8.28" r="5.8" fill="url(#gd)" stroke="#464646" stroke-width="0.4"/><circle cx="26.71" cy="23.74" r="5.8" fill="url(#gd)" stroke="#464646" stroke-width="0.4"/><circle cx="37.06" cy="39.21" r="5.8" fill="url(#gd)" stroke="#464646" stroke-width="0.4"/><circle cx="47.41" cy="54.67" r="5.8" fill="url(#gd)" stroke="#464646" stroke-width="0.4"/><circle cx="57.75" cy="70.13" r="5.8" fill="url(#gd)" stroke="#464646" stroke-width="0.4"/><circle cx="66.05" cy="84.52" r="3.3" fill="url(#gh)" stroke="#9a9a9a" stroke-width="0.3"/><circle cx="6.24" cy="-4.88" r="3.3" fill="url(#gh)" stroke="#9a9a9a" stroke-width="0.3"/><circle cx="10.23" cy="1.09" r="5.8" fill="url(#gd)" stroke="#464646" stroke-width="0.4"/><circle cx="20.60" cy="16.58" r="5.8" fill="url(#gd)" stroke="#464646" stroke-width="0.4"/><circle cx="30.96" cy="32.07" r="5.8" fill="url(#gd)" stroke="#464646" stroke-width="0.4"/><circle cx="41.33" cy="47.56" r="5.8" fill="url(#gd)" stroke="#464646" stroke-width="0.4"/><circle cx="51.69" cy="63.05" r="5.8" fill="url(#gd)" stroke="#464646" stroke-width="0.4"/><circle cx="62.05" cy="78.54" r="5.8" fill="url(#gd)" stroke="#464646" stroke-width="0.4"/><circle cx="4.85" cy="4.69" r="5.8" fill="url(#gd)" stroke="#464646" stroke-width="0.4"/><circle cx="15.21" cy="20.18" r="5.8" fill="url(#gd)" stroke="#464646" stroke-width="0.4"/><circle cx="25.58" cy="35.67" r="5.8" fill="url(#gd)" stroke="#464646" stroke-width="0.4"/><circle cx="35.94" cy="51.16" r="5.8" fill="url(#gd)" stroke="#464646" stroke-width="0.4"/><circle cx="46.31" cy="66.66" r="5.8" fill="url(#gd)" stroke="#464646" stroke-width="0.4"/><circle cx="56.67" cy="82.15" r="5.8" fill="url(#gd)" stroke="#464646" stroke-width="0.4"/><circle cx="58.69" cy="89.44" r="3.3" fill="url(#gh)" stroke="#9a9a9a" stroke-width="0.3"/><circle cx="-1.12" cy="0.04" r="3.3" fill="url(#gh)" stroke="#9a9a9a" stroke-width="0.3"/><circle cx="7.51" cy="14.20" r="5.8" fill="url(#gd)" stroke="#464646" stroke-width="0.4"/><circle cx="17.85" cy="29.67" r="5.8" fill="url(#gd)" stroke="#464646" stroke-width="0.4"/><circle cx="28.20" cy="45.13" r="5.8" fill="url(#gd)" stroke="#464646" stroke-width="0.4"/><circle cx="38.55" cy="60.60" r="5.8" fill="url(#gd)" stroke="#464646" stroke-width="0.4"/><circle cx="48.89" cy="76.06" r="5.8" fill="url(#gd)" stroke="#464646" stroke-width="0.4"/><circle cx="4.21" cy="16.40" r="3.3" fill="url(#gh)" stroke="#9a9a9a" stroke-width="0.3"/><circle cx="14.56" cy="31.87" r="3.3" fill="url(#gh)" stroke="#9a9a9a" stroke-width="0.3"/><circle cx="24.91" cy="47.33" r="3.3" fill="url(#gh)" stroke="#9a9a9a" stroke-width="0.3"/><circle cx="35.26" cy="62.80" r="3.3" fill="url(#gh)" stroke="#9a9a9a" stroke-width="0.3"/><circle cx="45.60" cy="78.26" r="3.3" fill="url(#gh)" stroke="#9a9a9a" stroke-width="0.3"/></g></defs>
<defs><g id="lightset" fill="url(#gl)" stroke="#8a8a8a" stroke-width="0.5" fill-opacity="0.88" stroke-opacity="0.85"><circle cx="-10.67" cy="4.97" r="3.3"/><circle cx="-12.97" cy="-3.93" r="3.3"/><circle cx="-6.70" cy="20.36" r="3.3"/><circle cx="-9.00" cy="11.46" r="3.3"/><circle cx="-2.73" cy="35.75" r="3.3"/><circle cx="-5.02" cy="26.85" r="3.3"/><circle cx="-23.50" cy="-11.50" r="3.3"/><circle cx="-9.80" cy="41.60" r="3.3"/><circle cx="-28.28" cy="3.25" r="3.3"/><circle cx="-30.57" cy="-5.65" r="3.3"/><circle cx="-24.30" cy="18.64" r="3.3"/><circle cx="-26.60" cy="9.74" r="3.3"/><circle cx="-20.33" cy="34.03" r="3.3"/><circle cx="-22.63" cy="25.13" r="3.3"/><circle cx="-15.00" cy="2.65" r="5.4"/><circle cx="-16.30" cy="-2.37" r="5.4"/><circle cx="-11.03" cy="18.05" r="5.4"/><circle cx="-12.33" cy="13.02" r="5.4"/><circle cx="-7.06" cy="33.44" r="5.4"/><circle cx="-8.36" cy="28.42" r="5.4"/><circle cx="-21.92" cy="-5.36" r="5.4"/><circle cx="-19.33" cy="4.68" r="5.4"/><circle cx="-17.95" cy="10.03" r="5.4"/><circle cx="-15.35" cy="20.07" r="5.4"/><circle cx="-13.97" cy="25.42" r="5.4"/><circle cx="-11.38" cy="35.46" r="5.4"/><circle cx="-24.94" cy="1.68" r="5.4"/><circle cx="-26.24" cy="-3.34" r="5.4"/><circle cx="-20.97" cy="17.08" r="5.4"/><circle cx="-22.27" cy="12.05" r="5.4"/><circle cx="-17.00" cy="32.47" r="5.4"/><circle cx="-18.30" cy="27.45" r="5.4"/><circle cx="51.25" cy="4.38" r="3.3"/><circle cx="48.45" cy="-4.16" r="3.3"/><circle cx="56.09" cy="19.17" r="3.3"/><circle cx="53.29" cy="10.62" r="3.3"/><circle cx="60.93" cy="33.95" r="3.3"/><circle cx="58.13" cy="25.40" r="3.3"/><circle cx="37.50" cy="-10.90" r="3.3"/><circle cx="54.20" cy="40.10" r="3.3"/><circle cx="33.57" cy="3.80" r="3.3"/><circle cx="30.77" cy="-4.75" r="3.3"/><circle cx="38.41" cy="18.58" r="3.3"/><circle cx="35.61" cy="10.03" r="3.3"/><circle cx="43.25" cy="33.36" r="3.3"/><circle cx="40.45" cy="24.82" r="3.3"/><circle cx="46.79" cy="2.40" r="5.4"/><circle cx="45.21" cy="-2.43" r="5.4"/><circle cx="51.63" cy="17.18" r="5.4"/><circle cx="50.05" cy="12.35" r="5.4"/><circle cx="56.47" cy="31.96" r="5.4"/><circle cx="54.89" cy="27.14" r="5.4"/><circle cx="39.43" cy="-5.01" r="5.4"/><circle cx="42.59" cy="4.64" r="5.4"/><circle cx="44.27" cy="9.78" r="5.4"/><circle cx="47.43" cy="19.42" r="5.4"/><circle cx="49.11" cy="24.56" r="5.4"/><circle cx="52.27" cy="34.21" r="5.4"/><circle cx="36.81" cy="2.06" r="5.4"/><circle cx="35.23" cy="-2.76" r="5.4"/><circle cx="41.65" cy="16.85" r="5.4"/><circle cx="40.07" cy="12.02" r="5.4"/><circle cx="46.49" cy="31.63" r="5.4"/><circle cx="44.91" cy="26.80" r="5.4"/><circle cx="21.28" cy="58.98" r="3.3"/><circle cx="17.66" cy="50.60" r="3.3"/><circle cx="27.54" cy="73.48" r="3.3"/><circle cx="23.92" cy="65.10" r="3.3"/><circle cx="33.80" cy="87.97" r="3.3"/><circle cx="30.18" cy="79.59" r="3.3"/><circle cx="6.10" cy="44.80" r="3.3"/><circle cx="27.70" cy="94.80" r="3.3"/><circle cx="3.62" cy="60.01" r="3.3"/><circle cx="-0.00" cy="51.63" r="3.3"/><circle cx="9.88" cy="74.50" r="3.3"/><circle cx="6.26" cy="66.12" r="3.3"/><circle cx="16.14" cy="89.00" r="3.3"/><circle cx="12.52" cy="80.62" r="3.3"/><circle cx="16.64" cy="57.38" r="5.4"/><circle cx="14.60" cy="52.65" r="5.4"/><circle cx="22.91" cy="71.88" r="5.4"/><circle cx="20.86" cy="67.15" r="5.4"/><circle cx="29.17" cy="86.37" r="5.4"/><circle cx="27.12" cy="81.64" r="5.4"/><circle cx="8.60" cy="50.58" r="5.4"/><circle cx="12.68" cy="60.04" r="5.4"/><circle cx="14.86" cy="65.07" r="5.4"/><circle cx="18.94" cy="74.53" r="5.4"/><circle cx="21.12" cy="79.56" r="5.4"/><circle cx="25.20" cy="89.02" r="5.4"/><circle cx="6.68" cy="57.96" r="5.4"/><circle cx="4.63" cy="53.23" r="5.4"/><circle cx="12.94" cy="72.45" r="5.4"/><circle cx="10.89" cy="67.72" r="5.4"/><circle cx="19.20" cy="86.95" r="5.4"/><circle cx="17.16" cy="82.22" r="5.4"/><circle cx="86.93" cy="58.90" r="3.3"/><circle cx="84.64" cy="50.18" r="3.3"/><circle cx="90.90" cy="73.97" r="3.3"/><circle cx="88.61" cy="65.26" r="3.3"/><circle cx="94.88" cy="89.04" r="3.3"/><circle cx="92.58" cy="80.33" r="3.3"/><circle cx="74.10" cy="42.80" r="3.3"/><circle cx="87.80" cy="94.80" r="3.3"/><circle cx="69.32" cy="57.27" r="3.3"/><circle cx="67.02" cy="48.56" r="3.3"/><circle cx="73.29" cy="72.34" r="3.3"/><circle cx="71.00" cy="63.63" r="3.3"/><circle cx="77.26" cy="87.42" r="3.3"/><circle cx="74.97" cy="78.70" r="3.3"/><circle cx="82.60" cy="56.65" r="5.4"/><circle cx="81.30" cy="51.73" r="5.4"/><circle cx="86.57" cy="71.72" r="5.4"/><circle cx="85.27" cy="66.80" r="5.4"/><circle cx="90.54" cy="86.79" r="5.4"/><circle cx="89.24" cy="81.87" r="5.4"/><circle cx="75.68" cy="48.81" r="5.4"/><circle cx="78.27" cy="58.65" r="5.4"/><circle cx="79.65" cy="63.88" r="5.4"/><circle cx="82.25" cy="73.72" r="5.4"/><circle cx="83.63" cy="78.95" r="5.4"/><circle cx="86.22" cy="88.79" r="5.4"/><circle cx="72.66" cy="55.73" r="5.4"/><circle cx="71.36" cy="50.81" r="5.4"/><circle cx="76.63" cy="70.80" r="5.4"/><circle cx="75.33" cy="65.88" r="5.4"/><circle cx="80.60" cy="85.87" r="5.4"/><circle cx="79.30" cy="80.95" r="5.4"/></g></defs>
<text x="91.50" y="402.20" font-size="11.30" text-anchor="middle" >Mode 1</text>
<text x="252.10" y="402.20" font-size="11.30" text-anchor="middle" >Mode 2</text>
<text x="420.20" y="402.20" font-size="11.30" text-anchor="middle" >Mode 7</text>
<text x="580.00" y="402.20" font-size="11.30" text-anchor="middle" >Mode 8</text>
<text x="89.30" y="541.20" font-size="11.30" text-anchor="middle" >Mode 9</text>
<text x="252.30" y="541.20" font-size="11.30" text-anchor="middle" >Mode 10</text>
<text x="418.70" y="541.20" font-size="11.30" text-anchor="middle" >Mode 12</text>
<text x="580.20" y="541.20" font-size="11.30" text-anchor="middle" >Mode 37</text>
<use href="#lightset" transform="translate(59.10 426.30)"/>
<use href="#pent" transform="translate(59.10 426.30)"/>
<use href="#lightset" transform="translate(223.30 427.20)"/>
<use href="#pent" transform="translate(223.30 427.20)"/>
<use href="#lightset" transform="translate(391.10 427.00)"/>
<use href="#pent" transform="translate(391.10 427.00)"/>
<use href="#lightset" transform="translate(551.50 427.20)"/>
<use href="#pent" transform="translate(551.50 427.20)"/>
<use href="#lightset" transform="translate(60.10 560.20)"/>
<use href="#pent" transform="translate(60.10 560.20)"/>
<use href="#lightset" transform="translate(223.00 559.80)"/>
<use href="#pent" transform="translate(223.00 559.80)"/>
<use href="#lightset" transform="translate(390.10 559.70)"/>
<use href="#pent" transform="translate(390.10 559.70)"/>
<use href="#lightset" transform="translate(551.80 559.90)"/>
<use href="#pent" transform="translate(551.80 559.90)"/>
<g fill="#e8732a"><circle cx="223.80" cy="553.60" r="2.5"/><circle cx="237.50" cy="556.00" r="2.2"/><circle cx="227.50" cy="568.90" r="1.3"/><circle cx="235.50" cy="580.90" r="2.2"/><circle cx="247.50" cy="586.20" r="2.2"/><circle cx="235.10" cy="593.80" r="2.2"/><circle cx="245.50" cy="597.40" r="2.0"/><circle cx="277.10" cy="609.90" r="1.8"/><circle cx="275.30" cy="641.60" r="2.0"/><circle cx="268.00" cy="630.70" r="1.2"/></g>
<g><line x1="59.30" y1="424.70" x2="56.53" y2="417.05" stroke="#e8732a" stroke-width="1.9"/><path d="M55.10 413.10L59.02 416.57L54.32 418.28Z" fill="#e8732a"/><line x1="62.50" y1="424.70" x2="61.54" y2="421.56" stroke="#e8732a" stroke-width="1.9"/><path d="M60.40 417.80L64.05 421.21L59.27 422.67Z" fill="#e8732a"/><line x1="66.70" y1="423.10" x2="62.74" y2="411.28" stroke="#e8732a" stroke-width="1.9"/><path d="M61.40 407.30L65.23 410.87L60.49 412.46Z" fill="#e8732a"/><line x1="66.20" y1="422.10" x2="65.24" y2="418.96" stroke="#e8732a" stroke-width="1.9"/><path d="M64.10 415.20L67.75 418.61L62.97 420.07Z" fill="#e8732a"/><line x1="76.70" y1="428.90" x2="73.72" y2="422.23" stroke="#e8732a" stroke-width="1.9"/><path d="M72.00 418.40L76.16 421.58L71.60 423.62Z" fill="#e8732a"/><line x1="63.00" y1="439.50" x2="61.01" y2="432.92" stroke="#e8732a" stroke-width="1.9"/><path d="M59.80 428.90L63.52 432.58L58.74 434.03Z" fill="#e8732a"/><line x1="86.20" y1="444.20" x2="83.22" y2="437.53" stroke="#e8732a" stroke-width="1.9"/><path d="M81.50 433.70L85.66 436.88L81.10 438.92Z" fill="#e8732a"/><line x1="73.10" y1="454.60" x2="69.99" y2="448.80" stroke="#e8732a" stroke-width="1.9"/><path d="M68.00 445.10L72.38 447.97L67.97 450.34Z" fill="#e8732a"/><line x1="84.10" y1="468.50" x2="80.42" y2="462.57" stroke="#e8732a" stroke-width="1.9"/><path d="M78.20 459.00L82.75 461.59L78.50 464.23Z" fill="#e8732a"/><line x1="96.50" y1="464.10" x2="92.79" y2="453.47" stroke="#e8732a" stroke-width="1.9"/><path d="M91.40 449.50L95.28 453.02L90.56 454.67Z" fill="#e8732a"/><line x1="106.70" y1="473.60" x2="103.96" y2="467.26" stroke="#e8732a" stroke-width="1.9"/><path d="M102.30 463.40L106.42 466.63L101.83 468.61Z" fill="#e8732a"/><line x1="93.60" y1="485.30" x2="90.18" y2="477.45" stroke="#e8732a" stroke-width="1.9"/><path d="M88.50 473.60L92.63 476.82L88.05 478.82Z" fill="#e8732a"/><line x1="116.20" y1="488.20" x2="114.53" y2="482.72" stroke="#e8732a" stroke-width="1.9"/><path d="M113.30 478.70L117.03 482.37L112.25 483.83Z" fill="#e8732a"/><line x1="102.30" y1="498.40" x2="99.73" y2="492.73" stroke="#e8732a" stroke-width="1.9"/><path d="M98.00 488.90L102.17 492.06L97.62 494.12Z" fill="#e8732a"/><line x1="34.00" y1="416.00" x2="31.76" y2="415.63" stroke="#e8732a" stroke-width="1.9"/><path d="M29.20 415.20L32.50 413.62L31.81 417.76Z" fill="#e8732a"/><path d="M26.90 421.50L30.45 420.60L28.96 424.53Z" fill="#e8732a"/><line x1="44.50" y1="426.30" x2="42.82" y2="425.86" stroke="#e8732a" stroke-width="1.9"/><path d="M40.30 425.20L43.73 423.93L42.67 427.99Z" fill="#e8732a"/><path d="M46.30 421.40L49.46 423.24L45.65 425.00Z" fill="#e8732a"/><line x1="54.60" y1="440.00" x2="56.47" y2="437.94" stroke="#e8732a" stroke-width="1.9"/><path d="M58.60 435.60L58.05 439.92L54.35 436.56Z" fill="#e8732a"/><line x1="55.60" y1="451.60" x2="56.91" y2="451.03" stroke="#e8732a" stroke-width="1.9"/><path d="M59.30 450.00L57.38 453.12L55.71 449.26Z" fill="#e8732a"/><line x1="57.70" y1="457.40" x2="61.55" y2="454.95" stroke="#e8732a" stroke-width="1.9"/><path d="M65.10 452.70L62.56 457.28L59.88 453.06Z" fill="#e8732a"/><line x1="53.00" y1="464.30" x2="55.24" y2="463.54" stroke="#e8732a" stroke-width="1.9"/><path d="M57.70 462.70L55.54 465.65L54.18 461.68Z" fill="#e8732a"/><line x1="117.70" y1="463.40" x2="119.53" y2="464.00" stroke="#e8732a" stroke-width="1.9"/><path d="M122.00 464.80L118.50 465.87L119.80 461.87Z" fill="#e8732a"/><line x1="126.00" y1="459.50" x2="125.00" y2="459.21" stroke="#e8732a" stroke-width="1.9"/><path d="M122.50 458.50L125.96 457.30L124.81 461.34Z" fill="#e8732a"/><line x1="133.00" y1="467.70" x2="137.46" y2="464.86" stroke="#e8732a" stroke-width="1.9"/><path d="M141.00 462.60L138.47 467.18L135.78 462.96Z" fill="#e8732a"/><line x1="137.00" y1="472.50" x2="138.48" y2="472.13" stroke="#e8732a" stroke-width="1.9"/><path d="M141.00 471.50L138.60 474.26L137.58 470.19Z" fill="#e8732a"/><line x1="141.80" y1="475.80" x2="144.24" y2="475.42" stroke="#e8732a" stroke-width="1.9"/><path d="M146.90 475.00L144.23 477.95L143.45 473.01Z" fill="#e8732a"/><line x1="140.00" y1="480.00" x2="141.42" y2="480.18" stroke="#e8732a" stroke-width="1.9"/><path d="M144.00 480.50L140.76 482.21L141.28 478.04Z" fill="#e8732a"/><line x1="133.00" y1="507.20" x2="131.90" y2="507.20" stroke="#e8732a" stroke-width="1.9"/><path d="M129.30 507.20L132.30 505.10L132.30 509.30Z" fill="#e8732a"/><line x1="141.80" y1="518.80" x2="139.32" y2="518.80" stroke="#e8732a" stroke-width="1.9"/><path d="M136.60 518.80L139.72 516.30L139.72 521.30Z" fill="#e8732a"/><line x1="75.50" y1="510.50" x2="75.84" y2="511.17" stroke="#e8732a" stroke-width="1.9"/><path d="M77.00 513.50L73.78 511.76L77.54 509.88Z" fill="#e8732a"/><line x1="86.50" y1="518.60" x2="86.95" y2="519.62" stroke="#e8732a" stroke-width="1.9"/><path d="M88.00 522.00L84.87 520.10L88.71 518.41Z" fill="#e8732a"/><line x1="69.00" y1="470.00" x2="69.84" y2="470.56" stroke="#e8732a" stroke-width="1.9"/><path d="M72.00 472.00L68.34 472.08L70.67 468.59Z" fill="#e8732a"/><line x1="79.00" y1="481.00" x2="79.84" y2="481.56" stroke="#e8732a" stroke-width="1.9"/><path d="M82.00 483.00L78.34 483.08L80.67 479.59Z" fill="#e8732a"/></g>
<g><line x1="203.50" y1="416.60" x2="206.02" y2="416.36" stroke="#e8732a" stroke-width="1.9"/><path d="M208.80 416.10L205.85 418.89L205.39 413.91Z" fill="#e8732a"/><line x1="206.70" y1="423.00" x2="208.81" y2="423.22" stroke="#e8732a" stroke-width="1.9"/><path d="M211.40 423.50L208.19 425.27L208.64 421.09Z" fill="#e8732a"/><line x1="213.00" y1="427.70" x2="216.55" y2="426.17" stroke="#e8732a" stroke-width="1.9"/><path d="M220.40 424.50L217.17 428.62L215.19 424.03Z" fill="#e8732a"/><line x1="213.50" y1="429.80" x2="216.42" y2="428.39" stroke="#e8732a" stroke-width="1.9"/><path d="M219.90 426.70L217.15 430.81L214.97 426.31Z" fill="#e8732a"/><line x1="213.00" y1="431.40" x2="215.23" y2="430.17" stroke="#e8732a" stroke-width="1.9"/><path d="M217.70 428.80L216.09 432.55L213.67 428.17Z" fill="#e8732a"/><line x1="214.60" y1="439.90" x2="218.34" y2="439.38" stroke="#e8732a" stroke-width="1.9"/><path d="M222.50 438.80L218.29 441.91L217.60 436.96Z" fill="#e8732a"/><line x1="219.90" y1="442.50" x2="225.30" y2="441.31" stroke="#e8732a" stroke-width="1.9"/><path d="M229.40 440.40L225.45 443.83L224.37 438.95Z" fill="#e8732a"/><line x1="219.90" y1="444.60" x2="224.13" y2="444.10" stroke="#e8732a" stroke-width="1.9"/><path d="M228.30 443.60L224.03 446.63L223.44 441.66Z" fill="#e8732a"/><line x1="219.90" y1="446.70" x2="223.26" y2="446.70" stroke="#e8732a" stroke-width="1.9"/><path d="M227.30 446.70L222.86 449.20L222.86 444.20Z" fill="#e8732a"/><line x1="219.90" y1="447.80" x2="224.11" y2="448.05" stroke="#e8732a" stroke-width="1.9"/><path d="M228.30 448.30L223.56 450.52L223.86 445.53Z" fill="#e8732a"/><line x1="220.90" y1="453.60" x2="227.30" y2="453.60" stroke="#e8732a" stroke-width="1.9"/><path d="M231.50 453.60L226.90 456.10L226.90 451.10Z" fill="#e8732a"/><line x1="220.90" y1="455.70" x2="226.23" y2="455.08" stroke="#e8732a" stroke-width="1.9"/><path d="M230.40 454.60L226.12 457.61L225.54 452.65Z" fill="#e8732a"/><line x1="222.00" y1="457.80" x2="231.50" y2="457.80" stroke="#e8732a" stroke-width="1.9"/><path d="M235.70 457.80L231.10 460.30L231.10 455.30Z" fill="#e8732a"/><line x1="222.00" y1="459.90" x2="230.40" y2="459.90" stroke="#e8732a" stroke-width="1.9"/><path d="M234.60 459.90L230.00 462.40L230.00 457.40Z" fill="#e8732a"/><line x1="222.50" y1="462.00" x2="229.40" y2="461.69" stroke="#e8732a" stroke-width="1.9"/><path d="M233.60 461.50L229.12 464.20L228.89 459.21Z" fill="#e8732a"/><line x1="216.20" y1="468.90" x2="227.36" y2="467.00" stroke="#e8732a" stroke-width="1.9"/><path d="M231.50 466.30L227.38 469.54L226.55 464.61Z" fill="#e8732a"/><line x1="233.60" y1="471.50" x2="240.82" y2="470.87" stroke="#e8732a" stroke-width="1.9"/><path d="M245.00 470.50L240.64 473.39L240.20 468.41Z" fill="#e8732a"/><line x1="233.60" y1="473.60" x2="240.80" y2="473.28" stroke="#e8732a" stroke-width="1.9"/><path d="M245.00 473.10L240.51 475.80L240.29 470.80Z" fill="#e8732a"/><line x1="234.00" y1="472.70" x2="242.59" y2="470.87" stroke="#e8732a" stroke-width="1.9"/><path d="M246.70 470.00L242.72 473.40L241.68 468.51Z" fill="#e8732a"/><line x1="239.30" y1="475.80" x2="242.22" y2="475.34" stroke="#e8732a" stroke-width="1.9"/><path d="M245.60 474.80L242.21 477.87L241.43 472.93Z" fill="#e8732a"/><line x1="238.20" y1="479.50" x2="242.53" y2="478.99" stroke="#e8732a" stroke-width="1.9"/><path d="M246.70 478.50L242.42 481.52L241.84 476.55Z" fill="#e8732a"/><line x1="245.10" y1="482.20" x2="251.50" y2="481.90" stroke="#e8732a" stroke-width="1.9"/><path d="M255.70 481.70L251.22 484.41L250.99 479.42Z" fill="#e8732a"/><line x1="245.10" y1="484.30" x2="252.00" y2="483.99" stroke="#e8732a" stroke-width="1.9"/><path d="M256.20 483.80L251.72 486.50L251.49 481.51Z" fill="#e8732a"/><line x1="245.10" y1="485.90" x2="250.91" y2="485.61" stroke="#e8732a" stroke-width="1.9"/><path d="M255.10 485.40L250.63 488.13L250.38 483.13Z" fill="#e8732a"/><path d="M247.70 491.20L244.36 492.69L245.15 488.57Z" fill="#e8732a"/><line x1="248.80" y1="494.90" x2="252.50" y2="494.90" stroke="#e8732a" stroke-width="1.9"/><path d="M256.70 494.90L252.10 497.40L252.10 492.40Z" fill="#e8732a"/><line x1="255.10" y1="499.10" x2="259.90" y2="499.10" stroke="#e8732a" stroke-width="1.9"/><path d="M264.10 499.10L259.50 501.60L259.50 496.60Z" fill="#e8732a"/><line x1="255.10" y1="501.70" x2="259.41" y2="501.45" stroke="#e8732a" stroke-width="1.9"/><path d="M263.60 501.20L259.15 503.97L258.86 498.97Z" fill="#e8732a"/><line x1="257.80" y1="511.20" x2="259.92" y2="511.47" stroke="#e8732a" stroke-width="1.9"/><path d="M262.50 511.80L259.26 513.50L259.79 509.34Z" fill="#e8732a"/><line x1="259.40" y1="516.00" x2="262.76" y2="516.00" stroke="#e8732a" stroke-width="1.9"/><path d="M266.80 516.00L262.36 518.50L262.36 513.50Z" fill="#e8732a"/><line x1="259.40" y1="518.10" x2="261.88" y2="518.10" stroke="#e8732a" stroke-width="1.9"/><path d="M264.60 518.10L261.48 520.60L261.48 515.60Z" fill="#e8732a"/><line x1="254.10" y1="523.40" x2="256.62" y2="523.16" stroke="#e8732a" stroke-width="1.9"/><path d="M259.40 522.90L256.45 525.69L255.99 520.71Z" fill="#e8732a"/><path d="M268.20 417.50L264.96 419.21L265.48 415.04Z" fill="#e8732a"/><path d="M272.20 423.70L268.76 424.95L269.85 420.89Z" fill="#e8732a"/><line x1="274.80" y1="427.00" x2="277.83" y2="426.36" stroke="#e8732a" stroke-width="1.9"/><path d="M281.40 425.60L277.96 428.89L276.92 423.99Z" fill="#e8732a"/><line x1="274.80" y1="429.60" x2="276.83" y2="429.29" stroke="#e8732a" stroke-width="1.9"/><path d="M279.40 428.90L276.75 431.43L276.12 427.28Z" fill="#e8732a"/><line x1="278.10" y1="438.80" x2="280.86" y2="438.89" stroke="#e8732a" stroke-width="1.9"/><path d="M284.00 439.00L280.38 441.38L280.54 436.38Z" fill="#e8732a"/><line x1="283.40" y1="442.10" x2="289.73" y2="441.32" stroke="#e8732a" stroke-width="1.9"/><path d="M293.90 440.80L289.64 443.85L289.03 438.88Z" fill="#e8732a"/><line x1="283.40" y1="445.40" x2="287.73" y2="444.84" stroke="#e8732a" stroke-width="1.9"/><path d="M291.90 444.30L287.66 447.37L287.02 442.41Z" fill="#e8732a"/><line x1="285.30" y1="453.90" x2="291.63" y2="453.12" stroke="#e8732a" stroke-width="1.9"/><path d="M295.80 452.60L291.54 455.65L290.93 450.68Z" fill="#e8732a"/><line x1="286.00" y1="456.50" x2="292.33" y2="455.72" stroke="#e8732a" stroke-width="1.9"/><path d="M296.50 455.20L292.24 458.25L291.63 453.28Z" fill="#e8732a"/><line x1="286.60" y1="459.80" x2="297.66" y2="457.91" stroke="#e8732a" stroke-width="1.9"/><path d="M301.80 457.20L297.69 460.44L296.84 455.51Z" fill="#e8732a"/><line x1="282.00" y1="466.40" x2="292.37" y2="464.54" stroke="#e8732a" stroke-width="1.9"/><path d="M296.50 463.80L292.41 467.07L291.53 462.15Z" fill="#e8732a"/><line x1="282.00" y1="467.70" x2="293.61" y2="466.74" stroke="#e8732a" stroke-width="1.9"/><path d="M297.80 466.40L293.42 469.27L293.01 464.29Z" fill="#e8732a"/><line x1="300.40" y1="469.70" x2="312.01" y2="468.74" stroke="#e8732a" stroke-width="1.9"/><path d="M316.20 468.40L311.82 471.27L311.41 466.29Z" fill="#e8732a"/><line x1="305.50" y1="476.90" x2="311.80" y2="476.90" stroke="#e8732a" stroke-width="1.9"/><path d="M316.00 476.90L311.40 479.40L311.40 474.40Z" fill="#e8732a"/><line x1="309.90" y1="480.40" x2="319.71" y2="479.77" stroke="#e8732a" stroke-width="1.9"/><path d="M323.90 479.50L319.47 482.29L319.15 477.30Z" fill="#e8732a"/><line x1="309.90" y1="483.00" x2="318.80" y2="482.80" stroke="#e8732a" stroke-width="1.9"/><path d="M323.00 482.70L318.46 485.30L318.34 480.31Z" fill="#e8732a"/><line x1="311.60" y1="493.50" x2="316.20" y2="493.71" stroke="#e8732a" stroke-width="1.9"/><path d="M320.40 493.90L315.69 496.19L315.92 491.19Z" fill="#e8732a"/><line x1="315.10" y1="497.00" x2="321.40" y2="497.00" stroke="#e8732a" stroke-width="1.9"/><path d="M325.60 497.00L321.00 499.50L321.00 494.50Z" fill="#e8732a"/><line x1="316.80" y1="500.50" x2="321.40" y2="500.66" stroke="#e8732a" stroke-width="1.9"/><path d="M325.60 500.80L320.92 503.14L321.09 498.14Z" fill="#e8732a"/><line x1="318.60" y1="511.10" x2="321.48" y2="511.24" stroke="#e8732a" stroke-width="1.9"/><path d="M324.80 511.40L320.96 513.72L321.20 508.72Z" fill="#e8732a"/><line x1="319.50" y1="516.30" x2="322.34" y2="516.44" stroke="#e8732a" stroke-width="1.9"/><path d="M325.60 516.60L321.82 518.92L322.06 513.92Z" fill="#e8732a"/><line x1="313.40" y1="522.40" x2="316.24" y2="522.68" stroke="#e8732a" stroke-width="1.9"/><path d="M319.50 523.00L315.60 525.13L316.08 520.15Z" fill="#e8732a"/><path d="M229.00 430.00L225.35 430.26L227.51 426.66Z" fill="#e8732a"/><path d="M235.50 436.00L231.85 436.26L234.01 432.66Z" fill="#e8732a"/><path d="M233.00 447.50L229.35 447.76L231.51 444.16Z" fill="#e8732a"/><path d="M238.50 446.50L234.85 446.76L237.01 443.16Z" fill="#e8732a"/><line x1="242.00" y1="435.50" x2="242.67" y2="435.84" stroke="#e8732a" stroke-width="1.9"/><path d="M245.00 437.00L241.38 437.54L243.26 433.78Z" fill="#e8732a"/><line x1="244.50" y1="466.50" x2="245.17" y2="466.84" stroke="#e8732a" stroke-width="1.9"/><path d="M247.50 468.00L243.88 468.54L245.76 464.78Z" fill="#e8732a"/><line x1="254.00" y1="469.50" x2="254.67" y2="469.84" stroke="#e8732a" stroke-width="1.9"/><path d="M257.00 471.00L253.38 471.54L255.26 467.78Z" fill="#e8732a"/><line x1="257.00" y1="478.50" x2="257.67" y2="478.84" stroke="#e8732a" stroke-width="1.9"/><path d="M260.00 480.00L256.38 480.54L258.26 476.78Z" fill="#e8732a"/><line x1="252.00" y1="493.00" x2="252.67" y2="493.34" stroke="#e8732a" stroke-width="1.9"/><path d="M255.00 494.50L251.38 495.04L253.26 491.28Z" fill="#e8732a"/><line x1="268.00" y1="486.00" x2="268.67" y2="486.34" stroke="#e8732a" stroke-width="1.9"/><path d="M271.00 487.50L267.38 488.04L269.26 484.28Z" fill="#e8732a"/><line x1="262.00" y1="505.00" x2="262.67" y2="505.34" stroke="#e8732a" stroke-width="1.9"/><path d="M265.00 506.50L261.38 507.04L263.26 503.28Z" fill="#e8732a"/><line x1="273.00" y1="514.00" x2="273.67" y2="514.34" stroke="#e8732a" stroke-width="1.9"/><path d="M276.00 515.50L272.38 516.04L274.26 512.28Z" fill="#e8732a"/><line x1="245.00" y1="436.00" x2="246.45" y2="436.29" stroke="#e8732a" stroke-width="1.9"/><path d="M249.00 436.80L245.65 438.27L246.47 434.15Z" fill="#e8732a"/><line x1="254.50" y1="450.80" x2="255.98" y2="451.17" stroke="#e8732a" stroke-width="1.9"/><path d="M258.50 451.80L255.08 453.11L256.10 449.04Z" fill="#e8732a"/><line x1="266.50" y1="467.50" x2="267.98" y2="467.87" stroke="#e8732a" stroke-width="1.9"/><path d="M270.50 468.50L267.08 469.81L268.10 465.74Z" fill="#e8732a"/><line x1="277.00" y1="479.50" x2="278.48" y2="479.87" stroke="#e8732a" stroke-width="1.9"/><path d="M281.00 480.50L277.58 481.81L278.60 477.74Z" fill="#e8732a"/><line x1="282.00" y1="514.00" x2="283.67" y2="514.84" stroke="#e8732a" stroke-width="1.9"/><path d="M286.00 516.00L282.38 516.54L284.26 512.78Z" fill="#e8732a"/><line x1="289.00" y1="513.00" x2="289.84" y2="513.56" stroke="#e8732a" stroke-width="1.9"/><path d="M292.00 515.00L288.34 515.08L290.67 511.59Z" fill="#e8732a"/></g>
<g><line x1="393.90" y1="425.50" x2="408.54" y2="418.18" stroke="#e8732a" stroke-width="1.9"/><path d="M412.30 416.30L409.30 420.59L407.07 416.12Z" fill="#e8732a"/><line x1="401.10" y1="430.70" x2="404.35" y2="429.28" stroke="#e8732a" stroke-width="1.9"/><path d="M408.20 427.60L404.98 431.73L402.98 427.15Z" fill="#e8732a"/><line x1="433.80" y1="428.60" x2="430.98" y2="429.57" stroke="#e8732a" stroke-width="1.9"/><path d="M427.70 430.70L430.55 427.08L432.17 431.80Z" fill="#e8732a"/><line x1="443.00" y1="443.90" x2="440.19" y2="445.14" stroke="#e8732a" stroke-width="1.9"/><path d="M436.90 446.60L439.55 442.69L441.57 447.27Z" fill="#e8732a"/><line x1="450.10" y1="465.40" x2="452.97" y2="464.66" stroke="#e8732a" stroke-width="1.9"/><path d="M456.30 463.80L453.20 467.18L451.96 462.34Z" fill="#e8732a"/><line x1="402.10" y1="460.30" x2="400.72" y2="461.85" stroke="#e8732a" stroke-width="1.9"/><path d="M399.00 463.80L399.42 460.16L402.56 462.95Z" fill="#e8732a"/><path d="M393.00 475.50L389.39 474.86L392.36 471.89Z" fill="#e8732a"/><line x1="478.00" y1="497.50" x2="478.34" y2="498.17" stroke="#e8732a" stroke-width="1.9"/><path d="M479.50 500.50L476.28 498.76L480.04 496.88Z" fill="#e8732a"/><path d="M472.50 484.00L468.99 482.97L472.27 480.35Z" fill="#e8732a"/><line x1="446.50" y1="426.00" x2="447.74" y2="426.71" stroke="#e8732a" stroke-width="1.9"/><path d="M450.00 428.00L446.35 428.33L448.44 424.69Z" fill="#e8732a"/><line x1="442.20" y1="478.60" x2="444.91" y2="477.13" stroke="#e8732a" stroke-width="1.9"/><path d="M448.10 475.40L445.75 479.52L443.37 475.12Z" fill="#e8732a"/><line x1="429.50" y1="488.10" x2="433.76" y2="485.11" stroke="#e8732a" stroke-width="1.9"/><path d="M437.20 482.70L434.87 487.39L432.00 483.29Z" fill="#e8732a"/><line x1="430.90" y1="486.30" x2="433.04" y2="485.01" stroke="#e8732a" stroke-width="1.9"/><path d="M435.40 483.60L433.99 487.36L431.41 483.08Z" fill="#e8732a"/><path d="M444.90 485.50L447.00 488.50L442.80 488.50Z" fill="#e8732a"/><path d="M440.20 489.50L443.32 491.42L439.47 493.09Z" fill="#e8732a"/><path d="M431.80 476.00L428.55 474.31L432.28 472.37Z" fill="#e8732a"/><path d="M436.00 473.00L432.81 471.20L436.60 469.39Z" fill="#e8732a"/><line x1="441.00" y1="509.50" x2="440.66" y2="510.17" stroke="#e8732a" stroke-width="1.9"/><path d="M439.50 512.50L438.96 508.88L442.72 510.76Z" fill="#e8732a"/><path d="M452.80 514.50L449.16 514.12L451.91 510.95Z" fill="#e8732a"/><line x1="444.00" y1="516.60" x2="438.42" y2="520.22" stroke="#e8732a" stroke-width="1.9"/><path d="M434.90 522.50L437.40 517.90L440.12 522.10Z" fill="#e8732a"/><path d="M410.50 520.50L412.51 517.44L414.07 521.34Z" fill="#e8732a"/></g>
<g><line x1="553.60" y1="424.70" x2="557.53" y2="423.36" stroke="#e8732a" stroke-width="1.9"/><path d="M561.50 422.00L557.96 425.85L556.34 421.12Z" fill="#e8732a"/><line x1="558.90" y1="441.70" x2="564.23" y2="439.44" stroke="#e8732a" stroke-width="1.9"/><path d="M568.10 437.80L564.84 441.90L562.89 437.29Z" fill="#e8732a"/><line x1="593.00" y1="414.20" x2="596.44" y2="412.26" stroke="#e8732a" stroke-width="1.9"/><path d="M600.10 410.20L597.32 414.64L594.87 410.28Z" fill="#e8732a"/><path d="M598.00 429.50L594.39 428.86L597.36 425.89Z" fill="#e8732a"/><path d="M583.50 448.00L579.89 447.36L582.86 444.39Z" fill="#e8732a"/><path d="M562.50 462.50L558.89 461.86L561.86 458.89Z" fill="#e8732a"/><path d="M592.70 459.80L589.09 459.16L592.06 456.19Z" fill="#e8732a"/><path d="M605.80 478.20L602.19 477.56L605.16 474.59Z" fill="#e8732a"/><path d="M573.00 479.50L569.39 478.86L572.36 475.89Z" fill="#e8732a"/><path d="M584.80 494.00L581.19 493.36L584.16 490.39Z" fill="#e8732a"/><line x1="600.90" y1="503.50" x2="606.25" y2="501.17" stroke="#e8732a" stroke-width="1.9"/><path d="M610.10 499.50L606.88 503.63L604.88 499.04Z" fill="#e8732a"/><line x1="613.00" y1="513.00" x2="613.84" y2="513.56" stroke="#e8732a" stroke-width="1.9"/><path d="M616.00 515.00L612.34 515.08L614.67 511.59Z" fill="#e8732a"/><line x1="569.40" y1="527.10" x2="580.26" y2="520.16" stroke="#e8732a" stroke-width="1.9"/><path d="M583.80 517.90L581.27 522.48L578.58 518.27Z" fill="#e8732a"/><line x1="574.00" y1="520.00" x2="577.20" y2="519.54" stroke="#e8732a" stroke-width="1.9"/><path d="M581.00 519.00L577.15 522.07L576.45 517.13Z" fill="#e8732a"/></g>
<g><line x1="63.60" y1="559.20" x2="75.26" y2="551.76" stroke="#e8732a" stroke-width="1.9"/><path d="M78.80 549.50L76.27 554.08L73.58 549.87Z" fill="#e8732a"/><line x1="68.10" y1="555.70" x2="71.45" y2="554.00" stroke="#e8732a" stroke-width="1.9"/><path d="M75.20 552.10L72.23 556.41L69.97 551.95Z" fill="#e8732a"/><line x1="96.60" y1="551.20" x2="90.74" y2="553.35" stroke="#e8732a" stroke-width="1.9"/><path d="M86.80 554.80L90.26 550.87L91.98 555.56Z" fill="#e8732a"/><line x1="100.50" y1="561.00" x2="102.13" y2="561.73" stroke="#e8732a" stroke-width="1.9"/><path d="M104.50 562.80L100.90 563.48L102.63 559.65Z" fill="#e8732a"/><line x1="119.70" y1="574.40" x2="123.87" y2="572.52" stroke="#e8732a" stroke-width="1.9"/><path d="M127.70 570.80L124.53 574.97L122.48 570.41Z" fill="#e8732a"/><line x1="69.00" y1="561.00" x2="69.66" y2="561.66" stroke="#e8732a" stroke-width="1.9"/><path d="M71.50 563.50L67.89 562.86L70.86 559.89Z" fill="#e8732a"/><path d="M126.00 593.00L122.35 592.77L124.97 589.49Z" fill="#e8732a"/><line x1="68.50" y1="582.50" x2="69.06" y2="583.34" stroke="#e8732a" stroke-width="1.9"/><path d="M70.50 585.50L67.09 584.17L70.58 581.84Z" fill="#e8732a"/><line x1="98.00" y1="591.00" x2="99.11" y2="591.48" stroke="#e8732a" stroke-width="1.9"/><path d="M101.50 592.50L97.92 593.25L99.57 589.39Z" fill="#e8732a"/><line x1="101.00" y1="593.00" x2="102.24" y2="593.71" stroke="#e8732a" stroke-width="1.9"/><path d="M104.50 595.00L100.85 595.33L102.94 591.69Z" fill="#e8732a"/><line x1="88.50" y1="604.60" x2="94.47" y2="601.92" stroke="#e8732a" stroke-width="1.9"/><path d="M98.30 600.20L95.13 604.36L93.08 599.80Z" fill="#e8732a"/><line x1="105.50" y1="605.50" x2="109.82" y2="603.12" stroke="#e8732a" stroke-width="1.9"/><path d="M113.50 601.10L110.67 605.51L108.26 601.13Z" fill="#e8732a"/><line x1="63.60" y1="606.40" x2="57.20" y2="611.04" stroke="#e8732a" stroke-width="1.9"/><path d="M53.80 613.50L56.06 608.78L58.99 612.83Z" fill="#e8732a"/><line x1="62.50" y1="614.00" x2="63.21" y2="615.24" stroke="#e8732a" stroke-width="1.9"/><path d="M64.50 617.50L61.19 615.94L64.83 613.85Z" fill="#e8732a"/><line x1="71.60" y1="619.80" x2="74.14" y2="618.95" stroke="#e8732a" stroke-width="1.9"/><path d="M77.00 618.00L74.55 621.45L72.97 616.71Z" fill="#e8732a"/><line x1="91.20" y1="628.70" x2="94.07" y2="628.05" stroke="#e8732a" stroke-width="1.9"/><path d="M97.40 627.30L94.23 630.58L93.13 625.70Z" fill="#e8732a"/><line x1="99.50" y1="628.00" x2="100.50" y2="628.84" stroke="#e8732a" stroke-width="1.9"/><path d="M102.50 630.50L98.85 630.19L101.54 626.97Z" fill="#e8732a"/><line x1="100.50" y1="639.50" x2="101.06" y2="640.34" stroke="#e8732a" stroke-width="1.9"/><path d="M102.50 642.50L99.09 641.17L102.58 638.84Z" fill="#e8732a"/><line x1="70.00" y1="646.00" x2="71.00" y2="646.84" stroke="#e8732a" stroke-width="1.9"/><path d="M73.00 648.50L69.35 648.19L72.04 644.97Z" fill="#e8732a"/><line x1="78.80" y1="659.00" x2="82.82" y2="657.64" stroke="#e8732a" stroke-width="1.9"/><path d="M86.80 656.30L83.24 660.14L81.64 655.40Z" fill="#e8732a"/><line x1="121.50" y1="648.30" x2="134.01" y2="639.93" stroke="#e8732a" stroke-width="1.9"/><path d="M137.50 637.60L135.07 642.24L132.29 638.08Z" fill="#e8732a"/><line x1="123.50" y1="636.50" x2="124.34" y2="637.06" stroke="#e8732a" stroke-width="1.9"/><path d="M126.50 638.50L122.84 638.58L125.17 635.09Z" fill="#e8732a"/><line x1="92.00" y1="574.50" x2="92.67" y2="574.84" stroke="#e8732a" stroke-width="1.9"/><path d="M95.00 576.00L91.38 576.54L93.26 572.78Z" fill="#e8732a"/></g>
<g><line x1="225.40" y1="572.90" x2="221.20" y2="566.08" stroke="#e8732a" stroke-width="1.9"/><path d="M219.00 562.50L223.54 565.11L219.28 567.73Z" fill="#e8732a"/><line x1="245.50" y1="569.70" x2="250.19" y2="575.61" stroke="#e8732a" stroke-width="1.9"/><path d="M252.80 578.90L247.98 576.85L251.90 573.74Z" fill="#e8732a"/><line x1="261.60" y1="593.80" x2="258.87" y2="588.96" stroke="#e8732a" stroke-width="1.9"/><path d="M256.80 585.30L261.24 588.08L256.89 590.53Z" fill="#e8732a"/><line x1="250.00" y1="610.40" x2="252.46" y2="614.83" stroke="#e8732a" stroke-width="1.9"/><path d="M254.50 618.50L250.08 615.69L254.45 613.26Z" fill="#e8732a"/><line x1="259.90" y1="625.40" x2="265.18" y2="632.87" stroke="#e8732a" stroke-width="1.9"/><path d="M267.60 636.30L262.90 633.99L266.99 631.10Z" fill="#e8732a"/><line x1="286.20" y1="631.20" x2="290.32" y2="638.01" stroke="#e8732a" stroke-width="1.9"/><path d="M292.50 641.60L287.98 638.96L292.25 636.37Z" fill="#e8732a"/><line x1="288.00" y1="646.60" x2="288.00" y2="649.36" stroke="#e8732a" stroke-width="1.9"/><path d="M288.00 652.50L285.50 648.96L290.50 648.96Z" fill="#e8732a"/><line x1="276.50" y1="648.50" x2="274.83" y2="647.66" stroke="#e8732a" stroke-width="1.9"/><path d="M272.50 646.50L276.12 645.96L274.24 649.72Z" fill="#e8732a"/></g>
<g><line x1="401.50" y1="567.50" x2="403.05" y2="570.29" stroke="#e8732a" stroke-width="1.9"/><path d="M404.90 573.60L400.68 571.16L405.04 568.72Z" fill="#e8732a"/><line x1="411.70" y1="569.20" x2="414.42" y2="573.14" stroke="#e8732a" stroke-width="1.9"/><path d="M416.80 576.60L412.13 574.23L416.25 571.39Z" fill="#e8732a"/><line x1="397.40" y1="579.70" x2="401.76" y2="585.78" stroke="#e8732a" stroke-width="1.9"/><path d="M404.20 589.20L399.49 586.91L403.56 584.00Z" fill="#e8732a"/><line x1="401.50" y1="579.40" x2="403.55" y2="582.04" stroke="#e8732a" stroke-width="1.9"/><path d="M406.00 585.20L401.32 583.25L405.28 580.19Z" fill="#e8732a"/><line x1="412.40" y1="581.70" x2="414.18" y2="583.81" stroke="#e8732a" stroke-width="1.9"/><path d="M416.20 586.20L412.01 585.11L415.83 581.89Z" fill="#e8732a"/><line x1="421.30" y1="584.50" x2="423.22" y2="585.94" stroke="#e8732a" stroke-width="1.9"/><path d="M425.30 587.50L421.64 587.38L424.16 584.02Z" fill="#e8732a"/><line x1="408.00" y1="595.00" x2="409.12" y2="596.80" stroke="#e8732a" stroke-width="1.9"/><path d="M410.50 599.00L407.13 597.57L410.69 595.34Z" fill="#e8732a"/><path d="M409.50 594.80L412.79 596.40L409.12 598.44Z" fill="#e8732a"/><line x1="434.30" y1="635.90" x2="430.47" y2="631.24" stroke="#e8732a" stroke-width="1.9"/><path d="M427.80 628.00L432.65 629.96L428.79 633.14Z" fill="#e8732a"/><line x1="435.60" y1="631.80" x2="433.59" y2="629.29" stroke="#e8732a" stroke-width="1.9"/><path d="M431.20 626.30L435.79 628.04L431.89 631.16Z" fill="#e8732a"/><line x1="446.20" y1="633.80" x2="444.94" y2="631.28" stroke="#e8732a" stroke-width="1.9"/><path d="M443.50 628.40L447.36 630.52L442.88 632.76Z" fill="#e8732a"/><line x1="442.40" y1="616.80" x2="444.94" y2="620.76" stroke="#e8732a" stroke-width="1.9"/><path d="M447.20 624.30L442.61 621.77L446.83 619.08Z" fill="#e8732a"/><line x1="425.00" y1="618.50" x2="422.93" y2="617.72" stroke="#e8732a" stroke-width="1.9"/><path d="M420.50 616.80L424.05 615.90L422.56 619.82Z" fill="#e8732a"/><path d="M425.50 613.50L426.54 617.01L422.56 615.68Z" fill="#e8732a"/><path d="M445.00 636.00L447.56 638.61L443.42 639.30Z" fill="#e8732a"/><path d="M446.50 645.50L448.60 648.50L444.40 648.50Z" fill="#e8732a"/><line x1="421.50" y1="606.50" x2="420.94" y2="605.66" stroke="#e8732a" stroke-width="1.9"/><path d="M419.50 603.50L422.91 604.83L419.42 607.16Z" fill="#e8732a"/></g>
<g><line x1="559.30" y1="575.00" x2="564.23" y2="572.56" stroke="#e8732a" stroke-width="1.9"/><path d="M568.00 570.70L564.98 574.98L562.77 570.50Z" fill="#e8732a"/><line x1="569.10" y1="590.80" x2="574.21" y2="588.01" stroke="#e8732a" stroke-width="1.9"/><path d="M577.90 586.00L575.06 590.40L572.66 586.01Z" fill="#e8732a"/><line x1="604.20" y1="611.20" x2="609.08" y2="607.73" stroke="#e8732a" stroke-width="1.9"/><path d="M612.50 605.30L610.20 610.00L607.30 605.93Z" fill="#e8732a"/><line x1="576.80" y1="629.30" x2="580.98" y2="626.59" stroke="#e8732a" stroke-width="1.9"/><path d="M584.50 624.30L582.00 628.90L579.28 624.71Z" fill="#e8732a"/><line x1="612.90" y1="627.60" x2="617.18" y2="624.54" stroke="#e8732a" stroke-width="1.9"/><path d="M620.60 622.10L618.31 626.81L615.40 622.74Z" fill="#e8732a"/><line x1="595.40" y1="639.60" x2="593.32" y2="641.16" stroke="#e8732a" stroke-width="1.9"/><path d="M591.00 642.90L592.14 638.92L595.14 642.92Z" fill="#e8732a"/><path d="M576.50 577.50L573.02 576.36L576.38 573.84Z" fill="#e8732a"/><path d="M607.00 624.00L603.78 622.26L607.54 620.38Z" fill="#e8732a"/></g>
</svg>
</body></html>
